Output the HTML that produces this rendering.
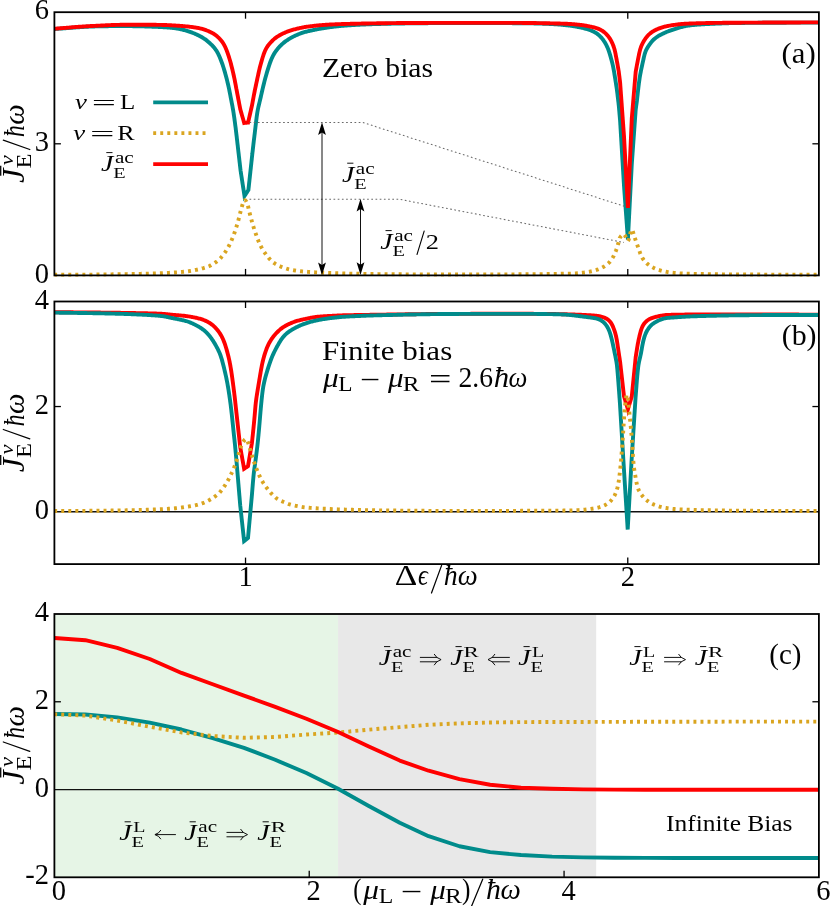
<!DOCTYPE html>
<html><head><meta charset="utf-8"><title>chart</title>
<style>html,body{margin:0;padding:0;background:#fff;}body{width:830px;height:906px;overflow:hidden;font-family:"Liberation Serif",serif;}svg{display:block;}</style></head>
<body>
<svg width="830" height="906" viewBox="0 0 830 906" font-family="'Liberation Serif', serif">
<rect x="0" y="0" width="830" height="906" fill="#fff"/>
<clipPath id="ca"><rect x="54.4" y="11.2" width="764.50" height="265.60"/></clipPath>
<clipPath id="cb"><rect x="54.4" y="300.5" width="764.50" height="265.00"/></clipPath>
<clipPath id="cc"><rect x="54.4" y="613.0" width="764.50" height="265.70"/></clipPath>
<rect x="54.4" y="614.0" width="283.65" height="263.30" fill="#e6f5e6"/>
<rect x="338.05" y="614.0" width="258.15" height="263.30" fill="#e8e8e8"/>
<line x1="54.4" x2="818.9" y1="511.7" y2="511.7" stroke="#111" stroke-width="1.4"/>
<line x1="54.4" x2="818.9" y1="789.6" y2="789.6" stroke="#111" stroke-width="1.4"/>
<g clip-path="url(#ca)">
<polyline points="52.21,29.17 53.01,29.12 53.80,29.07 54.60,29.02 55.40,28.96 56.21,28.91 57.03,28.85 57.84,28.79 58.62,28.74 59.40,28.68 60.19,28.62 60.99,28.57 61.79,28.51 62.58,28.45 63.38,28.39 64.18,28.33 64.98,28.27 65.77,28.21 66.57,28.14 67.37,28.08 68.17,28.02 68.96,27.96 69.76,27.90 70.56,27.83 71.36,27.77 72.15,27.71 72.95,27.65 73.75,27.59 74.55,27.53 75.34,27.47 76.14,27.41 76.94,27.35 77.74,27.30 78.54,27.24 79.33,27.19 80.13,27.13 80.93,27.08 81.73,27.03 82.53,26.98 83.33,26.93 84.12,26.89 84.92,26.84 85.72,26.80 86.52,26.76 87.32,26.72 88.12,26.68 88.92,26.65 89.72,26.61 90.52,26.58 91.32,26.55 92.12,26.52 92.92,26.49 93.72,26.47 94.51,26.44 95.31,26.42 96.11,26.40 96.91,26.38 97.71,26.36 98.51,26.34 99.31,26.32 100.11,26.30 100.91,26.29 101.71,26.27 102.51,26.26 103.31,26.25 104.11,26.23 104.91,26.22 105.71,26.21 106.51,26.20 107.31,26.19 108.11,26.18 108.91,26.17 109.71,26.16 110.51,26.15 111.31,26.14 112.11,26.14 112.91,26.13 113.71,26.13 114.51,26.12 115.31,26.12 116.11,26.11 116.91,26.11 117.71,26.11 118.51,26.11 119.31,26.11 120.11,26.10 120.91,26.10 121.71,26.11 122.51,26.11 123.31,26.11 124.11,26.11 124.91,26.11 125.71,26.12 126.51,26.12 127.31,26.13 128.11,26.13 128.91,26.14 129.71,26.14 130.51,26.15 131.31,26.16 132.11,26.17 132.91,26.18 133.71,26.19 134.51,26.20 135.31,26.21 136.11,26.23 136.91,26.24 137.71,26.26 138.51,26.28 139.31,26.30 140.11,26.31 140.91,26.33 141.71,26.36 142.51,26.38 143.31,26.40 144.11,26.42 144.91,26.45 145.71,26.47 146.51,26.49 147.31,26.52 148.11,26.54 148.91,26.57 149.71,26.60 150.51,26.62 151.30,26.65 152.10,26.68 152.90,26.71 153.70,26.74 154.50,26.77 155.30,26.81 156.10,26.84 156.90,26.88 157.70,26.91 158.50,26.95 159.30,26.99 160.10,27.03 160.89,27.07 161.69,27.12 162.49,27.16 163.29,27.20 164.09,27.25 164.89,27.30 165.69,27.34 166.49,27.39 167.28,27.45 168.08,27.50 168.88,27.56 169.68,27.62 170.47,27.69 171.27,27.77 172.06,27.85 172.86,27.94 173.65,28.04 174.44,28.14 175.23,28.26 176.02,28.38 176.81,28.51 177.60,28.65 178.39,28.80 179.17,28.95 179.95,29.11 180.74,29.27 181.52,29.45 182.30,29.63 183.07,29.81 183.85,30.00 184.62,30.20 185.40,30.41 186.17,30.62 186.93,30.85 187.70,31.08 188.46,31.32 189.22,31.57 189.97,31.83 190.73,32.10 191.48,32.38 192.22,32.67 192.97,32.96 193.71,33.26 194.45,33.57 195.18,33.88 195.91,34.20 196.64,34.53 197.37,34.86 198.09,35.20 198.81,35.56 199.52,35.92 200.23,36.29 200.93,36.67 201.62,37.06 202.31,37.47 202.99,37.89 203.66,38.32 204.32,38.76 204.98,39.22 205.63,39.68 206.27,40.16 206.90,40.65 207.52,41.15 208.13,41.66 208.73,42.18 209.33,42.71 209.92,43.25 210.50,43.80 211.07,44.36 211.64,44.92 212.20,45.49 212.75,46.07 213.28,46.66 213.81,47.26 214.32,47.87 214.82,48.49 215.30,49.12 215.77,49.76 216.22,50.42 216.65,51.09 217.06,51.77 217.46,52.46 217.84,53.16 218.20,53.87 218.55,54.58 218.89,55.31 219.22,56.03 219.54,56.77 219.85,57.50 220.16,58.24 220.46,58.98 220.75,59.73 221.04,60.47 221.32,61.22 221.59,61.97 221.87,62.72 222.14,63.48 222.40,64.23 222.66,64.99 222.91,65.75 223.17,66.51 223.41,67.27 223.65,68.03 223.89,68.79 224.13,69.56 224.36,70.32 224.58,71.09 224.81,71.86 225.03,72.63 225.24,73.40 225.45,74.17 225.67,74.94 225.87,75.71 226.08,76.49 226.28,77.26 226.48,78.03 226.68,78.81 226.88,79.58 227.07,80.36 227.26,81.14 227.45,81.91 227.64,82.69 227.83,83.47 228.01,84.25 228.19,85.03 228.37,85.81 228.54,86.59 228.71,87.37 228.88,88.15 229.05,88.93 229.21,89.72 229.37,90.50 229.53,91.29 229.68,92.07 229.84,92.85 229.99,93.64 230.14,94.43 230.29,95.21 230.44,96.00 230.59,96.78 230.75,97.57 230.90,98.35 231.05,99.14 231.20,99.92 231.35,100.71 231.51,101.49 231.66,102.28 231.81,103.07 231.97,103.85 232.12,104.64 232.27,105.42 232.42,106.21 232.56,106.99 232.71,107.78 232.85,108.57 232.98,109.36 233.12,110.15 233.25,110.93 233.37,111.72 233.50,112.51 233.62,113.30 233.74,114.10 233.86,114.89 233.97,115.68 234.09,116.47 234.20,117.26 234.31,118.05 234.42,118.85 234.53,119.64 234.64,120.43 234.75,121.22 234.85,122.02 234.96,122.81 235.06,123.60 235.17,124.40 235.27,125.19 235.38,125.98 235.48,126.78 235.59,127.57 235.69,128.36 235.78,129.16 235.88,129.95 235.97,130.75 236.07,131.54 236.16,132.33 236.26,133.13 236.35,133.92 236.45,134.72 236.54,135.51 236.64,136.31 236.70,136.86 236.73,137.10 236.82,137.90 236.91,138.69 237.01,139.48 237.10,140.28 237.19,141.07 237.28,141.87 237.37,142.66 237.46,143.46 237.55,144.25 237.65,145.05 237.74,145.84 237.83,146.64 237.92,147.43 238.01,148.23 238.10,149.02 238.19,149.82 238.28,150.61 238.38,151.41 238.47,152.20 238.56,153.00 238.65,153.79 238.74,154.59 238.83,155.38 238.92,156.17 239.02,156.97 239.11,157.76 239.20,158.56 239.29,159.35 239.38,160.15 239.47,160.94 239.56,161.74 239.65,162.53 239.75,163.33 239.84,164.12 239.93,164.92 240.02,165.71 240.11,166.51 240.20,167.30 240.29,168.10 240.38,168.89 240.48,169.69 240.57,170.48 240.60,170.78 240.68,171.27 240.80,172.06 240.92,172.85 241.04,173.64 241.17,174.44 241.29,175.23 241.41,176.02 241.53,176.81 241.66,177.60 241.78,178.39 241.90,179.18 242.02,179.97 242.14,180.76 242.27,181.55 242.39,182.34 242.51,183.13 242.63,183.92 242.76,184.71 242.88,185.50 243.00,186.29 243.12,187.09 243.24,187.88 243.37,188.67 243.49,189.46 243.61,190.25 243.73,191.04 243.86,191.83 243.98,192.62 244.10,193.41 244.22,194.20 244.34,194.99 244.47,195.78 244.50,196.00 244.82,195.51 245.25,194.84 245.69,194.17 246.13,193.50 246.56,192.83 247.00,192.16 247.44,191.49 247.87,190.82 248.31,190.15 248.40,190.02 248.47,189.38 248.55,188.59 248.64,187.79 248.73,187.00 248.81,186.20 248.90,185.41 248.98,184.61 249.07,183.82 249.16,183.02 249.24,182.22 249.33,181.43 249.42,180.63 249.50,179.84 249.59,179.04 249.68,178.25 249.76,177.45 249.85,176.66 249.93,175.86 250.02,175.07 250.11,174.27 250.19,173.48 250.28,172.68 250.37,171.89 250.45,171.09 250.54,170.29 250.62,169.50 250.71,168.70 250.80,167.91 250.88,167.11 250.97,166.32 251.06,165.52 251.14,164.73 251.23,163.93 251.32,163.14 251.40,162.34 251.49,161.55 251.57,160.75 251.66,159.96 251.75,159.16 251.83,158.36 251.92,157.57 252.01,156.77 252.09,155.98 252.18,155.18 252.26,154.39 252.30,154.10 252.35,153.59 252.44,152.80 252.54,152.00 252.63,151.21 252.72,150.41 252.81,149.62 252.90,148.82 252.99,148.03 253.08,147.23 253.17,146.44 253.26,145.64 253.35,144.85 253.44,144.05 253.53,143.26 253.62,142.47 253.71,141.67 253.81,140.88 253.91,140.08 254.01,139.29 254.10,138.49 254.20,137.70 254.30,136.91 254.40,136.11 254.49,135.32 254.59,134.52 254.68,133.73 254.78,132.93 254.87,132.14 254.97,131.35 255.06,130.55 255.15,129.76 255.24,128.96 255.34,128.17 255.43,127.37 255.52,126.58 255.61,125.78 255.71,124.99 255.80,124.19 255.89,123.40 255.99,122.61 256.08,121.81 256.18,121.02 256.27,120.22 256.37,119.43 256.47,118.64 256.57,117.84 256.68,117.05 256.78,116.26 256.89,115.46 257.01,114.67 257.12,113.88 257.24,113.09 257.37,112.30 257.50,111.51 257.64,110.72 257.78,109.94 257.94,109.15 258.10,108.37 258.26,107.59 258.44,106.81 258.62,106.03 258.80,105.25 258.98,104.47 259.17,103.70 259.36,102.92 259.55,102.14 259.74,101.36 259.93,100.59 260.11,99.81 260.29,99.03 260.48,98.25 260.66,97.47 260.84,96.69 261.01,95.91 261.19,95.13 261.37,94.35 261.55,93.57 261.72,92.79 261.90,92.01 262.08,91.23 262.26,90.45 262.44,89.67 262.62,88.89 262.81,88.12 262.99,87.34 263.18,86.56 263.37,85.78 263.56,85.00 263.75,84.23 263.94,83.45 264.14,82.68 264.33,81.90 264.53,81.13 264.73,80.35 264.94,79.58 265.14,78.80 265.35,78.03 265.56,77.26 265.78,76.49 265.99,75.72 266.21,74.95 266.43,74.18 266.65,73.41 266.88,72.64 267.10,71.88 267.33,71.11 267.56,70.35 267.80,69.58 268.03,68.82 268.27,68.05 268.51,67.29 268.76,66.53 269.00,65.77 269.26,65.01 269.51,64.25 269.78,63.50 270.04,62.74 270.32,61.99 270.60,61.25 270.89,60.50 271.19,59.76 271.50,59.02 271.82,58.29 272.15,57.57 272.49,56.84 272.85,56.13 273.21,55.42 273.60,54.72 273.99,54.03 274.40,53.34 274.82,52.67 275.26,52.01 275.72,51.35 276.18,50.70 276.66,50.07 277.15,49.44 277.66,48.82 278.17,48.21 278.69,47.60 279.22,47.01 279.77,46.42 280.32,45.85 280.88,45.28 281.46,44.73 282.04,44.19 282.64,43.66 283.24,43.14 283.86,42.64 284.49,42.14 285.12,41.66 285.77,41.19 286.42,40.73 287.07,40.27 287.74,39.83 288.41,39.40 289.09,38.97 289.77,38.56 290.46,38.16 291.16,37.77 291.86,37.38 292.56,37.01 293.27,36.64 293.99,36.28 294.71,35.94 295.43,35.59 296.16,35.26 296.89,34.94 297.62,34.62 298.36,34.31 299.10,34.01 299.84,33.72 300.59,33.44 301.34,33.17 302.10,32.91 302.85,32.66 303.62,32.41 304.38,32.18 305.15,31.96 305.92,31.75 306.69,31.55 307.47,31.36 308.25,31.17 309.02,30.99 309.80,30.82 310.59,30.64 311.37,30.48 312.15,30.31 312.93,30.15 313.72,29.99 314.50,29.83 315.29,29.67 316.07,29.52 316.86,29.36 317.64,29.21 318.43,29.06 319.21,28.92 320.00,28.78 320.79,28.64 321.58,28.50 322.36,28.36 323.15,28.23 323.94,28.10 324.73,27.98 325.52,27.85 326.31,27.73 327.10,27.61 327.90,27.50 328.69,27.38 329.48,27.27 330.27,27.16 331.07,27.06 331.86,26.95 332.65,26.85 333.45,26.75 334.24,26.65 335.03,26.56 335.83,26.47 336.62,26.38 337.42,26.29 338.21,26.21 339.01,26.13 339.81,26.05 340.60,25.97 341.40,25.90 342.20,25.82 342.99,25.76 343.79,25.69 344.59,25.62 345.38,25.56 346.18,25.50 346.98,25.44 347.78,25.39 348.58,25.33 349.37,25.28 350.17,25.23 350.97,25.18 351.77,25.13 352.57,25.09 353.37,25.04 354.17,24.99 354.96,24.95 355.76,24.90 356.56,24.86 357.36,24.82 358.16,24.78 358.96,24.73 359.76,24.69 360.56,24.65 361.36,24.61 362.16,24.58 362.95,24.54 363.75,24.50 364.55,24.47 365.35,24.43 366.15,24.40 366.95,24.36 367.75,24.33 368.55,24.30 369.35,24.27 370.15,24.24 370.95,24.21 371.75,24.18 372.55,24.16 373.35,24.13 374.15,24.11 374.95,24.08 375.75,24.06 376.54,24.04 377.34,24.02 378.14,24.00 378.94,23.97 379.74,23.95 380.54,23.93 381.34,23.91 382.14,23.89 382.94,23.88 383.74,23.86 384.54,23.84 385.34,23.82 386.14,23.80 386.94,23.78 387.74,23.76 388.54,23.74 389.34,23.72 390.14,23.70 390.94,23.69 391.74,23.67 392.54,23.65 393.34,23.63 394.14,23.62 394.94,23.60 395.74,23.58 396.54,23.57 397.34,23.55 398.14,23.54 398.94,23.52 399.74,23.51 400.54,23.49 401.34,23.48 402.14,23.47 402.94,23.46 403.74,23.44 404.54,23.43 405.34,23.42 406.14,23.41 406.94,23.40 407.74,23.39 408.54,23.38 409.34,23.37 410.14,23.36 410.94,23.35 411.74,23.34 412.54,23.33 413.34,23.32 414.14,23.31 414.94,23.31 415.74,23.30 416.54,23.29 417.34,23.28 418.14,23.27 418.94,23.26 419.74,23.25 420.54,23.25 421.34,23.24 422.14,23.23 422.94,23.22 423.74,23.22 424.54,23.21 425.34,23.20 426.14,23.19 426.94,23.19 427.74,23.18 428.54,23.17 429.34,23.17 430.14,23.16 430.94,23.15 431.74,23.15 432.54,23.14 433.34,23.14 434.14,23.13 434.94,23.13 435.74,23.12 436.54,23.12 437.34,23.11 438.14,23.11 438.94,23.11 439.74,23.10 440.54,23.10 441.34,23.10 442.14,23.09 442.94,23.09 443.74,23.09 444.54,23.08 445.34,23.08 446.14,23.08 446.94,23.08 447.74,23.07 448.54,23.07 449.34,23.07 450.14,23.07 450.94,23.07 451.74,23.06 452.54,23.06 453.34,23.06 454.14,23.06 454.94,23.06 455.74,23.06 456.54,23.06 457.34,23.05 458.14,23.05 458.94,23.05 459.74,23.05 460.54,23.05 461.34,23.05 462.14,23.05 462.94,23.05 463.74,23.05 464.54,23.05 465.34,23.05 466.14,23.05 466.94,23.05 467.74,23.05 468.54,23.04 469.34,23.04 470.14,23.04 470.94,23.04 471.74,23.04 472.54,23.04 473.34,23.04 474.14,23.04 474.94,23.04 475.74,23.05 476.54,23.05 477.34,23.05 478.14,23.05 478.94,23.05 479.74,23.05 480.54,23.05 481.34,23.05 482.14,23.05 482.94,23.05 483.74,23.05 484.54,23.05 485.34,23.05 486.14,23.05 486.94,23.05 487.74,23.05 488.54,23.06 489.34,23.06 490.14,23.06 490.94,23.06 491.74,23.06 492.54,23.07 493.34,23.07 494.14,23.07 494.94,23.08 495.74,23.08 496.54,23.08 497.34,23.09 498.14,23.09 498.94,23.09 499.74,23.10 500.54,23.10 501.34,23.11 502.14,23.11 502.94,23.11 503.74,23.12 504.54,23.12 505.34,23.13 506.14,23.13 506.94,23.14 507.74,23.14 508.54,23.15 509.34,23.16 510.14,23.16 510.94,23.17 511.74,23.17 512.54,23.18 513.34,23.19 514.14,23.19 514.94,23.20 515.74,23.20 516.54,23.21 517.34,23.22 518.14,23.22 518.94,23.23 519.74,23.24 520.54,23.24 521.34,23.25 522.14,23.26 522.94,23.27 523.74,23.27 524.54,23.28 525.34,23.29 526.14,23.30 526.94,23.31 527.74,23.32 528.54,23.33 529.33,23.34 530.13,23.35 530.93,23.37 531.73,23.38 532.53,23.40 533.33,23.42 534.13,23.44 534.93,23.46 535.73,23.48 536.53,23.50 537.33,23.52 538.13,23.55 538.93,23.57 539.73,23.60 540.53,23.62 541.33,23.65 542.13,23.67 542.93,23.70 543.73,23.73 544.53,23.76 545.33,23.79 546.13,23.82 546.93,23.85 547.73,23.88 548.53,23.92 549.32,23.95 550.12,23.99 550.92,24.03 551.72,24.07 552.52,24.11 553.32,24.16 554.12,24.21 554.92,24.26 555.71,24.31 556.51,24.37 557.31,24.43 558.11,24.49 558.91,24.55 559.70,24.61 560.50,24.68 561.30,24.74 562.09,24.81 562.89,24.88 563.69,24.96 564.48,25.03 565.28,25.11 566.08,25.19 566.87,25.28 567.66,25.37 568.46,25.47 569.25,25.57 570.04,25.68 570.84,25.79 571.63,25.91 572.42,26.03 573.21,26.15 574.00,26.28 574.79,26.41 575.58,26.54 576.36,26.68 577.15,26.81 577.94,26.96 578.73,27.10 579.51,27.26 580.29,27.41 581.08,27.58 581.86,27.75 582.63,27.93 583.41,28.13 584.18,28.33 584.95,28.54 585.72,28.76 586.49,28.98 587.25,29.22 588.01,29.47 588.77,29.72 589.52,29.98 590.27,30.25 591.02,30.54 591.76,30.83 592.49,31.14 593.22,31.47 593.93,31.82 594.63,32.19 595.32,32.58 596.00,32.99 596.65,33.43 597.30,33.89 597.93,34.37 598.54,34.88 599.13,35.40 599.71,35.94 600.28,36.50 600.83,37.08 601.36,37.67 601.88,38.27 602.38,38.89 602.87,39.52 603.34,40.16 603.80,40.81 604.24,41.47 604.67,42.15 605.08,42.83 605.48,43.52 605.87,44.21 606.24,44.92 606.60,45.63 606.95,46.35 607.28,47.07 607.60,47.80 607.91,48.54 608.21,49.28 608.49,50.03 608.76,50.78 609.02,51.53 609.28,52.29 609.52,53.05 609.76,53.82 609.99,54.58 610.21,55.35 610.43,56.12 610.65,56.89 610.86,57.66 611.07,58.43 611.28,59.20 611.49,59.98 611.69,60.75 611.89,61.52 612.09,62.30 612.28,63.07 612.47,63.85 612.65,64.63 612.83,65.41 613.00,66.19 613.16,66.97 613.32,67.76 613.48,68.54 613.62,69.33 613.77,70.11 613.91,70.90 614.05,71.69 614.18,72.48 614.31,73.27 614.44,74.06 614.57,74.85 614.70,75.64 614.83,76.42 614.95,77.21 615.08,78.00 615.21,78.79 615.33,79.58 615.46,80.37 615.59,81.16 615.71,81.95 615.84,82.74 615.96,83.53 616.09,84.32 616.21,85.12 616.33,85.91 616.45,86.70 616.57,87.49 616.68,88.28 616.80,89.07 616.90,89.86 617.01,90.66 617.11,91.45 617.21,92.24 617.31,93.04 617.41,93.83 617.50,94.63 617.60,95.42 617.69,96.21 617.79,97.01 617.88,97.80 617.98,98.60 618.07,99.39 618.17,100.19 618.26,100.98 618.35,101.78 618.45,102.57 618.54,103.36 618.63,104.16 618.72,104.95 618.80,105.75 618.88,106.55 618.95,107.34 619.02,108.14 619.09,108.94 619.16,109.73 619.23,110.53 619.30,111.33 619.36,112.12 619.43,112.92 619.50,113.72 619.57,114.52 619.64,115.31 619.71,116.11 619.77,116.91 619.84,117.70 619.91,118.50 619.98,119.30 620.05,120.10 620.10,120.75 620.11,120.89 620.16,121.69 620.21,122.49 620.26,123.29 620.30,124.09 620.35,124.89 620.40,125.68 620.45,126.48 620.50,127.28 620.54,128.08 620.59,128.88 620.64,129.68 620.69,130.48 620.74,131.27 620.78,132.07 620.83,132.87 620.88,133.67 620.93,134.47 620.97,135.27 621.02,136.07 621.07,136.86 621.12,137.66 621.17,138.46 621.21,139.26 621.26,140.06 621.31,140.86 621.36,141.66 621.41,142.45 621.45,143.25 621.50,144.05 621.55,144.85 621.60,145.65 621.65,146.45 621.69,147.25 621.74,148.04 621.79,148.84 621.84,149.64 621.88,150.44 621.93,151.24 621.98,152.04 622.03,152.84 622.08,153.63 622.12,154.43 622.17,155.23 622.22,156.03 622.27,156.83 622.32,157.63 622.36,158.43 622.41,159.22 622.46,160.02 622.51,160.82 622.56,161.62 622.60,162.42 622.65,163.22 622.70,164.02 622.75,164.81 622.79,165.61 622.84,166.41 622.89,167.21 622.94,168.01 622.99,168.81 623.03,169.61 623.08,170.40 623.13,171.20 623.18,172.00 623.23,172.80 623.27,173.60 623.32,174.40 623.37,175.20 623.42,175.99 623.47,176.79 623.51,177.59 623.56,178.39 623.61,179.19 623.66,179.99 623.70,180.78 623.75,181.58 623.80,182.38 623.85,183.18 623.90,183.98 623.94,184.78 623.99,185.58 624.00,185.74 624.05,186.37 624.11,187.17 624.16,187.97 624.22,188.77 624.28,189.57 624.34,190.36 624.39,191.16 624.45,191.96 624.51,192.76 624.57,193.56 624.63,194.35 624.68,195.15 624.74,195.95 624.80,196.75 624.86,197.55 624.92,198.34 624.97,199.14 625.03,199.94 625.09,200.74 625.15,201.53 625.20,202.33 625.26,203.13 625.32,203.93 625.38,204.73 625.44,205.52 625.49,206.32 625.55,207.12 625.61,207.92 625.67,208.72 625.73,209.51 625.78,210.31 625.84,211.11 625.90,211.91 625.96,212.71 626.01,213.50 626.07,214.30 626.13,215.10 626.19,215.90 626.25,216.69 626.30,217.49 626.36,218.29 626.42,219.09 626.48,219.89 626.54,220.68 626.59,221.48 626.65,222.28 626.71,223.08 626.77,223.88 626.82,224.67 626.88,225.47 626.94,226.27 627.00,227.07 627.06,227.87 627.11,228.66 627.17,229.46 627.23,230.26 627.29,231.06 627.35,231.86 627.40,232.65 627.46,233.45 627.52,234.25 627.58,235.05 627.63,235.84 627.69,236.64 627.75,237.44 627.81,238.24 627.87,239.04 627.90,239.50 627.92,239.17 627.96,238.37 628.00,237.57 628.04,236.77 628.08,235.97 628.12,235.17 628.16,234.37 628.21,233.57 628.25,232.77 628.29,231.97 628.33,231.18 628.37,230.38 628.41,229.58 628.45,228.78 628.49,227.98 628.54,227.18 628.58,226.38 628.62,225.58 628.66,224.78 628.70,223.99 628.74,223.19 628.78,222.39 628.82,221.59 628.87,220.79 628.91,219.99 628.95,219.19 628.99,218.39 629.03,217.59 629.07,216.80 629.11,216.00 629.15,215.20 629.20,214.40 629.24,213.60 629.28,212.80 629.32,212.00 629.36,211.20 629.40,210.40 629.44,209.60 629.48,208.81 629.53,208.01 629.57,207.21 629.61,206.41 629.65,205.61 629.69,204.81 629.73,204.01 629.77,203.21 629.81,202.41 629.86,201.62 629.90,200.82 629.94,200.02 629.98,199.22 630.02,198.42 630.06,197.62 630.10,196.82 630.14,196.02 630.19,195.22 630.23,194.42 630.27,193.63 630.31,192.83 630.35,192.03 630.39,191.23 630.43,190.43 630.47,189.63 630.52,188.83 630.56,188.03 630.60,187.23 630.64,186.44 630.68,185.64 630.72,184.84 630.76,184.04 630.80,183.24 630.85,182.44 630.89,181.64 630.93,180.84 630.97,180.04 631.01,179.25 631.05,178.45 631.09,177.65 631.13,176.85 631.17,176.05 631.22,175.25 631.26,174.45 631.30,173.65 631.34,172.85 631.38,172.05 631.42,171.26 631.46,170.46 631.50,169.66 631.55,168.86 631.59,168.06 631.63,167.26 631.67,166.46 631.71,165.66 631.75,164.86 631.79,164.07 631.80,163.98 631.85,163.27 631.91,162.47 631.96,161.67 632.02,160.87 632.08,160.08 632.14,159.28 632.19,158.48 632.25,157.68 632.31,156.88 632.36,156.09 632.42,155.29 632.48,154.49 632.54,153.69 632.59,152.89 632.65,152.10 632.71,151.30 632.77,150.50 632.82,149.70 632.88,148.90 632.94,148.11 633.00,147.31 633.05,146.51 633.11,145.71 633.17,144.91 633.22,144.12 633.28,143.32 633.34,142.52 633.40,141.72 633.45,140.92 633.51,140.13 633.57,139.33 633.63,138.53 633.68,137.73 633.74,136.94 633.80,136.14 633.86,135.34 633.91,134.54 633.97,133.74 634.03,132.95 634.08,132.15 634.14,131.35 634.20,130.55 634.26,129.75 634.31,128.96 634.37,128.16 634.43,127.36 634.49,126.56 634.54,125.76 634.60,124.97 634.66,124.17 634.72,123.37 634.77,122.57 634.83,121.77 634.89,120.98 634.94,120.18 635.00,119.38 635.06,118.58 635.12,117.78 635.17,116.99 635.23,116.19 635.29,115.39 635.35,114.59 635.40,113.79 635.46,113.00 635.52,112.20 635.57,111.40 635.63,110.60 635.69,109.81 635.70,109.72 635.79,109.01 635.90,108.22 636.01,107.43 636.11,106.63 636.22,105.84 636.33,105.05 636.44,104.26 636.54,103.46 636.65,102.67 636.76,101.88 636.87,101.08 636.96,100.29 637.05,99.49 637.14,98.70 637.22,97.90 637.31,97.11 637.40,96.31 637.49,95.52 637.58,94.72 637.66,93.93 637.75,93.13 637.84,92.34 637.93,91.54 638.02,90.75 638.11,89.95 638.20,89.16 638.30,88.36 638.39,87.57 638.48,86.78 638.58,85.98 638.67,85.19 638.77,84.39 638.87,83.60 638.97,82.81 639.08,82.01 639.19,81.22 639.30,80.43 639.41,79.64 639.53,78.85 639.65,78.05 639.77,77.26 639.90,76.48 640.04,75.69 640.17,74.90 640.32,74.11 640.46,73.33 640.61,72.54 640.77,71.76 640.92,70.97 641.08,70.19 641.25,69.40 641.41,68.62 641.58,67.84 641.75,67.06 641.91,66.27 642.08,65.49 642.25,64.71 642.43,63.93 642.60,63.15 642.77,62.37 642.94,61.59 643.11,60.80 643.29,60.02 643.46,59.24 643.63,58.46 643.81,57.68 643.99,56.90 644.17,56.13 644.36,55.35 644.56,54.58 644.78,53.81 645.01,53.06 645.26,52.30 645.54,51.56 645.84,50.83 646.16,50.11 646.51,49.40 646.88,48.70 647.27,48.01 647.68,47.33 648.11,46.66 648.54,45.99 648.99,45.33 649.44,44.67 649.91,44.02 650.38,43.38 650.86,42.74 651.35,42.11 651.86,41.50 652.38,40.90 652.92,40.32 653.47,39.75 654.05,39.21 654.64,38.68 655.25,38.18 655.88,37.69 656.52,37.23 657.18,36.78 657.85,36.35 658.53,35.94 659.22,35.54 659.91,35.15 660.62,34.78 661.33,34.41 662.04,34.05 662.76,33.71 663.49,33.37 664.21,33.03 664.94,32.71 665.68,32.39 666.41,32.08 667.15,31.78 667.89,31.48 668.64,31.19 669.38,30.90 670.13,30.62 670.88,30.34 671.63,30.07 672.39,29.80 673.14,29.54 673.90,29.28 674.66,29.03 675.42,28.78 676.18,28.54 676.95,28.30 677.71,28.07 678.48,27.84 679.25,27.62 680.02,27.41 680.79,27.20 681.56,27.00 682.34,26.80 683.11,26.61 683.89,26.43 684.67,26.26 685.46,26.10 686.24,25.95 687.03,25.81 687.82,25.68 688.61,25.56 689.40,25.45 690.19,25.35 690.98,25.26 691.78,25.17 692.57,25.09 693.37,25.01 694.17,24.94 694.96,24.87 695.76,24.81 696.56,24.74 697.36,24.68 698.15,24.62 698.95,24.56 699.75,24.51 700.55,24.45 701.35,24.40 702.14,24.35 702.94,24.30 703.74,24.25 704.54,24.20 705.34,24.16 706.14,24.11 706.94,24.07 707.73,24.03 708.53,23.99 709.33,23.95 710.13,23.91 710.93,23.87 711.73,23.84 712.53,23.80 713.33,23.77 714.13,23.74 714.93,23.71 715.73,23.67 716.53,23.64 717.33,23.61 718.12,23.58 718.92,23.55 719.72,23.52 720.52,23.48 721.32,23.45 722.12,23.42 722.92,23.39 723.72,23.36 724.52,23.33 725.32,23.30 726.12,23.27 726.92,23.25 727.72,23.22 728.52,23.19 729.32,23.17 730.12,23.15 730.92,23.12 731.72,23.10 732.52,23.09 733.32,23.07 734.12,23.05 734.92,23.04 735.71,23.02 736.51,23.01 737.31,23.00 738.11,22.99 738.91,22.98 739.71,22.97 740.51,22.97 741.31,22.96 742.11,22.95 742.91,22.94 743.71,22.94 744.51,22.93 745.31,22.92 746.11,22.92 746.91,22.91 747.71,22.90 748.51,22.90 749.31,22.89 750.11,22.88 750.91,22.88 751.71,22.87 752.51,22.86 753.31,22.86 754.11,22.85 754.91,22.85 755.71,22.84 756.51,22.83 757.31,22.83 758.11,22.82 758.91,22.82 759.71,22.81 760.51,22.80 761.31,22.80 762.11,22.79 762.91,22.79 763.71,22.78 764.51,22.78 765.31,22.77 766.11,22.77 766.91,22.76 767.71,22.76 768.51,22.76 769.31,22.75 770.11,22.75 770.91,22.74 771.71,22.74 772.51,22.73 773.31,22.73 774.11,22.73 774.91,22.72 775.71,22.72 776.51,22.71 777.31,22.71 778.11,22.71 778.91,22.70 779.71,22.70 780.51,22.70 781.31,22.70 782.11,22.69 782.91,22.69 783.71,22.69 784.51,22.68 785.31,22.68 786.11,22.68 786.91,22.67 787.71,22.67 788.51,22.67 789.31,22.66 790.11,22.66 790.91,22.66 791.71,22.65 792.51,22.65 793.31,22.65 794.11,22.65 794.91,22.64 795.71,22.64 796.51,22.64 797.31,22.63 798.11,22.63 798.91,22.63 799.71,22.63 800.51,22.62 801.31,22.62 802.11,22.62 802.91,22.62 803.71,22.61 804.51,22.61 805.31,22.61 806.11,22.61 806.91,22.61 807.71,22.61 808.51,22.60 809.31,22.60 810.11,22.60 810.91,22.60 811.71,22.60 812.51,22.60 813.30,22.60 814.08,22.60 814.87,22.60 815.68,22.60 816.51,22.59 817.31,22.59 818.11,22.60 818.91,22.60 819.71,22.60 820.33,22.60" fill="none" stroke="#008b8b" stroke-width="3.9" stroke-linejoin="miter" stroke-miterlimit="4"/>
<polyline points="54.20,274.80 55.00,274.80 55.75,274.80 56.50,274.80 57.25,274.79 58.00,274.79 58.75,274.79 59.50,274.79 60.25,274.79 61.00,274.78 61.75,274.78 62.50,274.78 63.25,274.77 64.00,274.77 64.75,274.77 65.50,274.76 66.25,274.76 67.00,274.76 67.75,274.75 68.50,274.75 69.25,274.75 70.00,274.74 70.75,274.74 71.50,274.73 72.25,274.73 73.00,274.72 73.75,274.72 74.50,274.71 75.25,274.71 76.00,274.70 76.75,274.70 77.50,274.69 78.25,274.69 79.00,274.68 79.75,274.68 80.50,274.67 81.25,274.67 82.00,274.66 82.75,274.66 83.50,274.65 84.25,274.65 85.00,274.64 85.75,274.63 86.50,274.63 87.25,274.62 88.00,274.62 88.75,274.61 89.50,274.60 90.25,274.60 91.00,274.59 91.75,274.59 92.50,274.58 93.25,274.57 94.00,274.56 94.75,274.56 95.50,274.55 96.25,274.54 97.00,274.53 97.75,274.52 98.50,274.51 99.25,274.51 100.00,274.50 100.75,274.49 101.50,274.48 102.25,274.47 103.00,274.46 103.75,274.45 104.50,274.44 105.25,274.43 106.00,274.42 106.75,274.41 107.50,274.39 108.25,274.38 109.00,274.37 109.75,274.36 110.50,274.35 111.25,274.34 112.00,274.33 112.75,274.31 113.50,274.30 114.25,274.29 115.00,274.28 115.75,274.27 116.50,274.26 117.25,274.24 118.00,274.23 118.75,274.22 119.50,274.21 120.25,274.20 121.00,274.18 121.75,274.17 122.50,274.16 123.25,274.15 124.00,274.14 124.75,274.12 125.50,274.11 126.25,274.10 127.00,274.09 127.75,274.07 128.50,274.06 129.25,274.05 130.00,274.03 130.75,274.02 131.50,274.01 132.25,273.99 133.00,273.98 133.75,273.97 134.50,273.95 135.25,273.94 136.00,273.92 136.75,273.91 137.50,273.89 138.25,273.88 139.00,273.86 139.75,273.85 140.50,273.83 141.25,273.81 142.00,273.80 142.75,273.78 143.50,273.76 144.25,273.75 145.00,273.73 145.75,273.71 146.50,273.69 147.25,273.67 148.00,273.65 148.75,273.63 149.50,273.61 150.25,273.59 151.00,273.57 151.75,273.55 152.50,273.53 153.25,273.51 154.00,273.48 154.75,273.46 155.50,273.43 156.25,273.41 157.00,273.38 157.75,273.35 158.50,273.33 159.25,273.30 160.00,273.27 160.75,273.24 161.50,273.21 162.25,273.18 163.00,273.14 163.75,273.11 164.50,273.08 165.25,273.04 166.00,273.01 166.75,272.97 167.50,272.93 168.25,272.89 169.00,272.85 169.75,272.81 170.50,272.77 171.25,272.73 172.00,272.69 172.75,272.64 173.50,272.59 174.25,272.54 175.00,272.49 175.75,272.44 176.50,272.38 177.25,272.33 178.00,272.27 178.75,272.21 179.50,272.15 180.25,272.08 181.00,272.02 181.75,271.95 182.50,271.88 183.25,271.80 184.00,271.73 184.75,271.65 185.50,271.57 186.25,271.49 187.00,271.40 187.75,271.32 188.50,271.22 189.25,271.12 190.00,271.00 190.75,270.88 191.50,270.75 192.25,270.61 193.00,270.47 193.75,270.32 194.50,270.18 195.25,270.03 196.00,269.88 196.75,269.73 197.50,269.57 198.25,269.41 199.00,269.23 199.75,269.06 200.50,268.88 201.25,268.69 202.00,268.49 202.75,268.30 203.50,268.10 204.25,267.88 205.00,267.66 205.75,267.43 206.50,267.18 207.25,266.92 208.00,266.64 208.75,266.33 209.50,265.99 210.25,265.61 211.00,265.21 211.75,264.79 212.50,264.34 213.25,263.87 214.00,263.39 214.75,262.90 215.50,262.38 216.25,261.84 217.00,261.26 217.75,260.65 218.50,260.00 219.25,259.33 220.00,258.61 220.75,257.82 221.50,256.97 222.25,256.07 223.00,255.12 223.75,254.13 224.50,253.12 225.25,252.05 226.00,250.92 226.75,249.74 227.50,248.49 228.25,247.18 229.00,245.77 229.75,244.27 230.50,242.69 231.25,241.04 232.00,239.31 232.75,237.47 233.50,235.53 234.25,233.47 235.00,231.26 235.75,228.96 236.50,226.63 237.25,224.22 238.00,221.64 238.75,218.77 239.50,215.79 240.25,212.80 241.00,209.84 241.75,207.18 242.50,204.59 243.25,202.49 244.00,201.16 244.75,200.28 245.50,200.42 246.25,201.43 247.00,202.96 247.75,204.91 248.50,208.24 249.25,211.49 250.00,214.39 250.75,217.21 251.50,220.04 252.25,222.80 253.00,225.38 253.75,227.79 254.50,230.10 255.25,232.33 256.00,234.47 256.75,236.53 257.50,238.52 258.25,240.47 259.00,242.32 259.75,244.01 260.50,245.55 261.25,247.00 262.00,248.35 262.75,249.63 263.50,250.83 264.25,251.97 265.00,253.04 265.75,254.07 266.50,255.06 267.25,256.02 268.00,256.97 268.75,257.91 269.50,258.81 270.25,259.67 271.00,260.45 271.75,261.14 272.50,261.77 273.25,262.37 274.00,262.93 274.75,263.45 275.50,263.95 276.25,264.40 277.00,264.83 277.75,265.23 278.50,265.60 279.25,265.95 280.00,266.28 280.75,266.60 281.50,266.90 282.25,267.18 283.00,267.45 283.75,267.72 284.50,267.97 285.25,268.23 286.00,268.47 286.75,268.71 287.50,268.93 288.25,269.15 289.00,269.35 289.75,269.53 290.50,269.70 291.25,269.85 292.00,270.00 292.75,270.14 293.50,270.27 294.25,270.39 295.00,270.51 295.75,270.62 296.50,270.73 297.25,270.83 298.00,270.93 298.75,271.02 299.50,271.11 300.25,271.20 301.00,271.29 301.75,271.37 302.50,271.44 303.25,271.51 304.00,271.58 304.75,271.63 305.50,271.69 306.25,271.75 307.00,271.80 307.75,271.85 308.50,271.91 309.25,271.96 310.00,272.01 310.75,272.06 311.50,272.10 312.25,272.15 313.00,272.20 313.75,272.24 314.50,272.29 315.25,272.33 316.00,272.37 316.75,272.41 317.50,272.45 318.25,272.49 319.00,272.53 319.75,272.57 320.50,272.60 321.25,272.64 322.00,272.67 322.75,272.71 323.50,272.74 324.25,272.77 325.00,272.81 325.75,272.84 326.50,272.87 327.25,272.90 328.00,272.93 328.75,272.95 329.50,272.98 330.25,273.01 331.00,273.04 331.75,273.06 332.50,273.09 333.25,273.11 334.00,273.14 334.75,273.16 335.50,273.19 336.25,273.21 337.00,273.24 337.75,273.26 338.50,273.28 339.25,273.31 340.00,273.33 340.75,273.35 341.50,273.37 342.25,273.39 343.00,273.42 343.75,273.44 344.50,273.46 345.25,273.48 346.00,273.50 346.75,273.52 347.50,273.54 348.25,273.55 349.00,273.57 349.75,273.59 350.50,273.61 351.25,273.62 352.00,273.64 352.75,273.66 353.50,273.67 354.25,273.69 355.00,273.71 355.75,273.72 356.50,273.74 357.25,273.75 358.00,273.76 358.75,273.78 359.50,273.79 360.25,273.80 361.00,273.82 361.75,273.83 362.50,273.84 363.25,273.86 364.00,273.87 364.75,273.88 365.50,273.89 366.25,273.90 367.00,273.92 367.75,273.93 368.50,273.94 369.25,273.95 370.00,273.96 370.75,273.97 371.50,273.98 372.25,274.00 373.00,274.01 373.75,274.02 374.50,274.03 375.25,274.04 376.00,274.05 376.75,274.06 377.50,274.07 378.25,274.08 379.00,274.09 379.75,274.10 380.50,274.11 381.25,274.12 382.00,274.13 382.75,274.13 383.50,274.14 384.25,274.15 385.00,274.16 385.75,274.17 386.50,274.18 387.25,274.19 388.00,274.19 388.75,274.20 389.50,274.21 390.25,274.22 391.00,274.22 391.75,274.23 392.50,274.24 393.25,274.25 394.00,274.25 394.75,274.26 395.50,274.26 396.25,274.27 397.00,274.28 397.75,274.28 398.50,274.29 399.25,274.29 400.00,274.30 400.75,274.31 401.50,274.31 402.25,274.32 403.00,274.32 403.75,274.33 404.50,274.33 405.25,274.34 406.00,274.34 406.75,274.35 407.50,274.35 408.25,274.36 409.00,274.36 409.75,274.37 410.50,274.37 411.25,274.38 412.00,274.39 412.75,274.39 413.50,274.40 414.25,274.40 415.00,274.41 415.75,274.41 416.50,274.41 417.25,274.42 418.00,274.42 418.75,274.43 419.50,274.43 420.25,274.44 421.00,274.44 421.75,274.45 422.50,274.45 423.25,274.45 424.00,274.46 424.75,274.46 425.50,274.46 426.25,274.47 427.00,274.47 427.75,274.47 428.50,274.48 429.25,274.48 430.00,274.48 430.75,274.48 431.50,274.49 432.25,274.49 433.00,274.49 433.75,274.49 434.50,274.49 435.25,274.50 436.00,274.50 436.75,274.50 437.50,274.50 438.25,274.50 439.00,274.50 439.75,274.50 440.50,274.50 441.25,274.50 442.00,274.50 442.75,274.50 443.50,274.50 444.25,274.50 445.00,274.50 445.75,274.50 446.50,274.50 447.25,274.50 448.00,274.50 448.75,274.50 449.50,274.50 450.25,274.50 451.00,274.50 451.75,274.50 452.50,274.50 453.25,274.50 454.00,274.50 454.75,274.50 455.50,274.50 456.25,274.50 457.00,274.50 457.75,274.50 458.50,274.50 459.25,274.50 460.00,274.50 460.75,274.50 461.50,274.50 462.25,274.50 463.00,274.50 463.75,274.50 464.50,274.50 465.25,274.50 466.00,274.50 466.75,274.50 467.50,274.50 468.25,274.50 469.00,274.50 469.75,274.50 470.50,274.50 471.25,274.50 472.00,274.50 472.75,274.50 473.50,274.50 474.25,274.50 475.00,274.50 475.75,274.50 476.50,274.50 477.25,274.50 478.00,274.50 478.75,274.50 479.50,274.50 480.25,274.50 481.00,274.50 481.75,274.50 482.50,274.50 483.25,274.50 484.00,274.50 484.75,274.50 485.50,274.49 486.25,274.49 487.00,274.49 487.75,274.49 488.50,274.49 489.25,274.48 490.00,274.48 490.75,274.48 491.50,274.48 492.25,274.47 493.00,274.47 493.75,274.47 494.50,274.46 495.25,274.46 496.00,274.46 496.75,274.45 497.50,274.45 498.25,274.44 499.00,274.44 499.75,274.44 500.50,274.43 501.25,274.43 502.00,274.42 502.75,274.42 503.50,274.41 504.25,274.41 505.00,274.40 505.75,274.40 506.50,274.39 507.25,274.39 508.00,274.38 508.75,274.38 509.50,274.37 510.25,274.37 511.00,274.36 511.75,274.36 512.50,274.35 513.25,274.35 514.00,274.34 514.75,274.34 515.50,274.33 516.25,274.33 517.00,274.32 517.75,274.32 518.50,274.31 519.25,274.31 520.00,274.30 520.75,274.29 521.50,274.29 522.25,274.28 523.00,274.28 523.75,274.27 524.50,274.27 525.25,274.26 526.00,274.26 526.75,274.25 527.50,274.24 528.25,274.24 529.00,274.23 529.75,274.22 530.50,274.22 531.25,274.21 532.00,274.20 532.75,274.20 533.50,274.19 534.25,274.18 535.00,274.18 535.75,274.17 536.50,274.16 537.25,274.15 538.00,274.15 538.75,274.14 539.50,274.13 540.25,274.12 541.00,274.11 541.75,274.10 542.50,274.09 543.25,274.09 544.00,274.08 544.75,274.07 545.50,274.06 546.25,274.05 547.00,274.04 547.75,274.03 548.50,274.02 549.25,274.01 550.00,274.00 550.75,273.99 551.50,273.98 552.25,273.97 553.00,273.96 553.75,273.95 554.50,273.93 555.25,273.92 556.00,273.91 556.75,273.90 557.50,273.88 558.25,273.87 559.00,273.86 559.75,273.84 560.50,273.83 561.25,273.81 562.00,273.80 562.75,273.78 563.50,273.76 564.25,273.75 565.00,273.73 565.75,273.71 566.50,273.69 567.25,273.67 568.00,273.65 568.75,273.63 569.50,273.61 570.25,273.59 571.00,273.57 571.75,273.54 572.50,273.52 573.25,273.49 574.00,273.46 574.75,273.42 575.50,273.39 576.25,273.35 577.00,273.31 577.75,273.26 578.50,273.19 579.25,273.12 580.00,273.04 580.75,272.96 581.50,272.87 582.25,272.77 583.00,272.67 583.75,272.57 584.50,272.47 585.25,272.37 586.00,272.27 586.75,272.16 587.50,272.04 588.25,271.92 589.00,271.80 589.75,271.66 590.50,271.52 591.25,271.37 592.00,271.20 592.75,271.03 593.50,270.84 594.25,270.63 595.00,270.42 595.75,270.19 596.50,269.95 597.25,269.69 598.00,269.43 598.75,269.14 599.50,268.84 600.25,268.51 601.00,268.16 601.75,267.79 602.50,267.39 603.25,266.98 604.00,266.54 604.75,266.08 605.50,265.58 606.25,265.05 607.00,264.48 607.75,263.86 608.50,263.19 609.25,262.45 610.00,261.63 610.75,260.67 611.50,259.59 612.25,258.41 613.00,257.13 613.75,255.76 614.50,254.21 615.25,252.50 616.00,250.62 616.75,248.54 617.50,246.15 618.25,243.66 619.00,240.78 619.75,238.04 620.50,236.77 621.25,235.89 622.00,235.18 622.75,234.66 623.50,234.36 624.25,234.38 625.00,235.40 625.75,237.14 626.50,239.03 627.25,240.50 628.00,240.98 628.75,239.60 629.50,236.78 630.25,233.51 631.00,230.75 631.75,229.51 632.50,230.43 633.25,232.77 634.00,235.40 634.75,237.60 635.50,239.84 636.25,242.07 637.00,244.20 637.75,246.27 638.50,248.33 639.25,250.45 640.00,252.71 640.75,254.79 641.50,256.38 642.25,257.72 643.00,258.92 643.75,259.98 644.50,260.92 645.25,261.76 646.00,262.53 646.75,263.23 647.50,263.89 648.25,264.49 649.00,265.05 649.75,265.57 650.50,266.06 651.25,266.53 652.00,266.98 652.75,267.40 653.50,267.81 654.25,268.18 655.00,268.54 655.75,268.86 656.50,269.16 657.25,269.44 658.00,269.69 658.75,269.94 659.50,270.16 660.25,270.38 661.00,270.58 661.75,270.78 662.50,270.96 663.25,271.13 664.00,271.31 664.75,271.47 665.50,271.63 666.25,271.79 667.00,271.93 667.75,272.07 668.50,272.19 669.25,272.31 670.00,272.41 670.75,272.51 671.50,272.60 672.25,272.68 673.00,272.75 673.75,272.83 674.50,272.90 675.25,272.96 676.00,273.03 676.75,273.09 677.50,273.15 678.25,273.21 679.00,273.27 679.75,273.33 680.50,273.39 681.25,273.44 682.00,273.49 682.75,273.54 683.50,273.57 684.25,273.61 685.00,273.63 685.75,273.66 686.50,273.69 687.25,273.71 688.00,273.73 688.75,273.76 689.50,273.78 690.25,273.80 691.00,273.82 691.75,273.84 692.50,273.85 693.25,273.87 694.00,273.89 694.75,273.90 695.50,273.92 696.25,273.93 697.00,273.95 697.75,273.96 698.50,273.97 699.25,273.99 700.00,274.00 700.75,274.01 701.50,274.03 702.25,274.04 703.00,274.05 703.75,274.07 704.50,274.08 705.25,274.09 706.00,274.10 706.75,274.12 707.50,274.13 708.25,274.14 709.00,274.15 709.75,274.16 710.50,274.17 711.25,274.19 712.00,274.20 712.75,274.21 713.50,274.22 714.25,274.23 715.00,274.24 715.75,274.25 716.50,274.26 717.25,274.27 718.00,274.28 718.75,274.29 719.50,274.30 720.25,274.31 721.00,274.31 721.75,274.32 722.50,274.33 723.25,274.34 724.00,274.35 724.75,274.35 725.50,274.36 726.25,274.37 727.00,274.38 727.75,274.38 728.50,274.39 729.25,274.39 730.00,274.40 730.75,274.41 731.50,274.41 732.25,274.42 733.00,274.42 733.75,274.43 734.50,274.43 735.25,274.44 736.00,274.44 736.75,274.45 737.50,274.45 738.25,274.46 739.00,274.46 739.75,274.47 740.50,274.47 741.25,274.48 742.00,274.48 742.75,274.48 743.50,274.49 744.25,274.49 745.00,274.50 745.75,274.50 746.50,274.51 747.25,274.51 748.00,274.51 748.75,274.52 749.50,274.52 750.25,274.52 751.00,274.53 751.75,274.53 752.50,274.54 753.25,274.54 754.00,274.54 754.75,274.55 755.50,274.55 756.25,274.55 757.00,274.55 757.75,274.56 758.50,274.56 759.25,274.56 760.00,274.57 760.75,274.57 761.50,274.57 762.25,274.58 763.00,274.58 763.75,274.58 764.50,274.58 765.25,274.59 766.00,274.59 766.75,274.59 767.50,274.59 768.25,274.59 769.00,274.60 769.75,274.60 770.50,274.60 771.25,274.60 772.00,274.61 772.75,274.61 773.50,274.61 774.25,274.61 775.00,274.61 775.75,274.62 776.50,274.62 777.25,274.62 778.00,274.62 778.75,274.62 779.50,274.63 780.25,274.63 781.00,274.63 781.75,274.63 782.50,274.63 783.25,274.64 784.00,274.64 784.75,274.64 785.50,274.64 786.25,274.64 787.00,274.65 787.75,274.65 788.50,274.65 789.25,274.65 790.00,274.65 790.75,274.65 791.50,274.66 792.25,274.66 793.00,274.66 793.75,274.66 794.50,274.66 795.25,274.67 796.00,274.67 796.75,274.67 797.50,274.67 798.25,274.67 799.00,274.67 799.75,274.67 800.50,274.68 801.25,274.68 802.00,274.68 802.75,274.68 803.50,274.68 804.25,274.68 805.00,274.68 805.75,274.68 806.50,274.69 807.25,274.69 808.00,274.69 808.75,274.69 809.50,274.69 810.25,274.69 811.00,274.69 811.75,274.69 812.50,274.69 813.25,274.69 814.00,274.70 814.75,274.70 815.50,274.70 816.25,274.70 817.00,274.70 817.75,274.70 818.50,274.70 819.25,274.70 820.00,274.70 820.75,274.70 821.50,274.70" fill="none" stroke="#daa520" stroke-width="3.9" stroke-linejoin="miter" stroke-miterlimit="4" stroke-dasharray="2.95 4.1"/>
<polyline points="52.21,28.87 53.01,28.82 53.80,28.77 54.60,28.72 55.40,28.66 56.21,28.61 57.03,28.54 57.83,28.48 58.62,28.42 59.40,28.36 60.19,28.30 60.99,28.24 61.78,28.17 62.58,28.11 63.38,28.04 64.17,27.98 64.97,27.91 65.77,27.84 66.56,27.77 67.36,27.71 68.16,27.64 68.96,27.57 69.75,27.50 70.55,27.44 71.35,27.37 72.14,27.30 72.94,27.24 73.74,27.17 74.54,27.11 75.33,27.04 76.13,26.98 76.93,26.92 77.73,26.86 78.53,26.80 79.32,26.74 80.12,26.69 80.92,26.63 81.72,26.58 82.52,26.53 83.31,26.48 84.11,26.43 84.91,26.38 85.71,26.33 86.51,26.29 87.31,26.24 88.11,26.20 88.90,26.15 89.70,26.11 90.50,26.07 91.30,26.03 92.10,25.99 92.90,25.95 93.70,25.91 94.50,25.87 95.30,25.83 96.10,25.79 96.89,25.75 97.69,25.71 98.49,25.67 99.29,25.63 100.09,25.59 100.89,25.55 101.69,25.52 102.49,25.48 103.29,25.44 104.09,25.40 104.88,25.36 105.68,25.32 106.48,25.28 107.28,25.24 108.08,25.21 108.88,25.17 109.68,25.13 110.48,25.10 111.28,25.06 112.08,25.03 112.88,25.00 113.68,24.97 114.48,24.95 115.28,24.92 116.07,24.90 116.87,24.88 117.67,24.86 118.47,24.84 119.27,24.83 120.07,24.81 120.87,24.80 121.67,24.79 122.47,24.79 123.27,24.78 124.07,24.77 124.87,24.77 125.67,24.77 126.47,24.76 127.27,24.76 128.07,24.76 128.87,24.76 129.67,24.76 130.47,24.75 131.27,24.75 132.07,24.75 132.87,24.75 133.67,24.75 134.47,24.75 135.27,24.75 136.07,24.75 136.87,24.75 137.67,24.75 138.47,24.75 139.27,24.75 140.07,24.75 140.87,24.75 141.67,24.75 142.47,24.75 143.27,24.75 144.07,24.75 144.87,24.75 145.67,24.75 146.47,24.75 147.27,24.75 148.07,24.75 148.87,24.75 149.67,24.76 150.47,24.76 151.27,24.76 152.07,24.77 152.87,24.78 153.67,24.78 154.47,24.79 155.27,24.80 156.07,24.81 156.87,24.83 157.67,24.84 158.47,24.86 159.27,24.87 160.07,24.89 160.87,24.91 161.67,24.92 162.47,24.94 163.27,24.97 164.07,24.99 164.87,25.01 165.67,25.04 166.47,25.07 167.27,25.10 168.07,25.13 168.87,25.17 169.67,25.21 170.46,25.25 171.26,25.29 172.06,25.34 172.86,25.38 173.66,25.43 174.46,25.48 175.26,25.53 176.05,25.59 176.85,25.64 177.65,25.69 178.45,25.75 179.25,25.81 180.04,25.86 180.84,25.92 181.64,25.98 182.44,26.05 183.23,26.11 184.03,26.18 184.83,26.25 185.63,26.32 186.42,26.40 187.22,26.48 188.01,26.56 188.81,26.64 189.60,26.73 190.40,26.82 191.19,26.92 191.99,27.02 192.78,27.12 193.57,27.23 194.36,27.34 195.15,27.46 195.94,27.58 196.73,27.71 197.52,27.85 198.30,28.00 199.08,28.16 199.86,28.34 200.64,28.53 201.41,28.73 202.18,28.94 202.94,29.17 203.71,29.41 204.46,29.66 205.22,29.92 205.97,30.19 206.72,30.47 207.46,30.76 208.20,31.06 208.94,31.37 209.67,31.70 210.39,32.03 211.11,32.38 211.82,32.74 212.51,33.13 213.20,33.52 213.88,33.94 214.54,34.38 215.19,34.83 215.83,35.31 216.45,35.80 217.06,36.31 217.66,36.83 218.24,37.38 218.82,37.93 219.38,38.49 219.93,39.07 220.46,39.66 220.98,40.27 221.49,40.88 221.97,41.51 222.44,42.15 222.90,42.80 223.33,43.47 223.74,44.15 224.14,44.84 224.51,45.54 224.87,46.25 225.21,46.97 225.54,47.69 225.86,48.43 226.16,49.16 226.45,49.91 226.74,50.65 227.01,51.40 227.29,52.16 227.55,52.91 227.81,53.66 228.07,54.42 228.33,55.18 228.58,55.94 228.83,56.70 229.07,57.46 229.31,58.22 229.55,58.99 229.78,59.75 230.00,60.52 230.23,61.29 230.45,62.06 230.66,62.83 230.87,63.60 231.08,64.37 231.28,65.15 231.48,65.92 231.67,66.70 231.87,67.47 232.06,68.25 232.25,69.03 232.44,69.80 232.62,70.58 232.80,71.36 232.99,72.14 233.17,72.92 233.35,73.70 233.52,74.48 233.70,75.26 233.87,76.04 234.04,76.82 234.20,77.61 234.37,78.39 234.53,79.17 234.69,79.96 234.84,80.74 234.99,81.53 235.14,82.31 235.30,83.10 235.45,83.88 235.60,84.67 235.75,85.46 235.89,86.24 236.04,87.03 236.19,87.81 236.34,88.60 236.40,88.95 236.49,89.39 236.64,90.17 236.79,90.96 236.94,91.74 237.09,92.53 237.24,93.32 237.39,94.10 237.54,94.89 237.69,95.67 237.84,96.46 237.99,97.24 238.14,98.03 238.29,98.82 238.44,99.60 238.59,100.39 238.74,101.17 238.89,101.96 239.04,102.75 239.19,103.53 239.34,104.32 239.49,105.10 239.64,105.89 239.79,106.67 239.94,107.46 240.09,108.25 240.24,109.03 240.30,109.36 240.43,109.81 240.65,110.58 240.87,111.35 241.09,112.12 241.31,112.88 241.53,113.65 241.75,114.42 241.97,115.19 242.19,115.96 242.41,116.73 242.63,117.50 242.85,118.27 243.07,119.04 243.29,119.81 243.51,120.58 243.73,121.35 243.95,122.12 244.17,122.88 244.20,123.00 244.87,122.91 245.67,122.81 246.46,122.71 247.26,122.61 248.05,122.51 248.10,122.51 248.26,121.78 248.44,121.00 248.62,120.22 248.80,119.44 248.98,118.66 249.15,117.88 249.33,117.10 249.51,116.32 249.69,115.54 249.86,114.76 250.04,113.98 250.22,113.20 250.40,112.42 250.58,111.64 250.75,110.86 250.93,110.08 251.11,109.30 251.29,108.52 251.46,107.74 251.64,106.96 251.82,106.18 252.00,105.41 252.00,105.40 252.14,104.61 252.29,103.82 252.44,103.04 252.58,102.25 252.73,101.46 252.87,100.68 253.02,99.89 253.16,99.10 253.31,98.32 253.45,97.53 253.60,96.74 253.75,95.96 253.89,95.17 254.05,94.38 254.20,93.60 254.35,92.81 254.50,92.03 254.66,91.24 254.82,90.46 254.98,89.68 255.15,88.89 255.31,88.11 255.48,87.33 255.65,86.55 255.81,85.76 255.98,84.98 256.15,84.20 256.32,83.42 256.48,82.64 256.65,81.85 256.82,81.07 256.99,80.29 257.16,79.51 257.32,78.72 257.49,77.94 257.66,77.16 257.83,76.38 258.00,75.60 258.17,74.81 258.34,74.03 258.51,73.25 258.68,72.47 258.85,71.69 259.03,70.91 259.21,70.13 259.39,69.35 259.57,68.57 259.76,67.80 259.96,67.02 260.16,66.25 260.36,65.47 260.57,64.70 260.78,63.93 261.00,63.16 261.21,62.39 261.43,61.62 261.66,60.85 261.88,60.08 262.11,59.32 262.34,58.55 262.57,57.79 262.81,57.02 263.05,56.26 263.29,55.50 263.55,54.74 263.81,53.98 264.08,53.23 264.36,52.49 264.66,51.75 264.96,51.01 265.29,50.29 265.63,49.57 266.00,48.86 266.38,48.17 266.78,47.48 267.20,46.81 267.65,46.15 268.11,45.51 268.59,44.87 269.09,44.25 269.60,43.64 270.12,43.04 270.66,42.45 271.21,41.87 271.76,41.30 272.33,40.74 272.91,40.19 273.50,39.65 274.10,39.13 274.71,38.62 275.33,38.12 275.97,37.64 276.61,37.18 277.27,36.73 277.94,36.30 278.62,35.88 279.30,35.47 279.99,35.07 280.69,34.69 281.40,34.32 282.11,33.95 282.83,33.60 283.55,33.26 284.28,32.93 285.01,32.61 285.74,32.29 286.48,31.99 287.22,31.69 287.97,31.41 288.72,31.13 289.47,30.87 290.23,30.61 290.99,30.37 291.75,30.13 292.52,29.90 293.29,29.68 294.06,29.47 294.83,29.26 295.61,29.06 296.38,28.87 297.16,28.68 297.94,28.49 298.71,28.31 299.49,28.13 300.28,27.96 301.06,27.79 301.84,27.62 302.62,27.47 303.41,27.32 304.20,27.17 304.98,27.04 305.77,26.91 306.56,26.79 307.35,26.67 308.15,26.56 308.94,26.45 309.73,26.35 310.53,26.25 311.32,26.16 312.11,26.06 312.91,25.97 313.70,25.88 314.50,25.80 315.29,25.71 316.09,25.63 316.89,25.54 317.68,25.46 318.48,25.39 319.27,25.31 320.07,25.24 320.87,25.17 321.66,25.10 322.46,25.04 323.26,24.98 324.06,24.92 324.86,24.87 325.65,24.81 326.45,24.76 327.25,24.71 328.05,24.66 328.85,24.62 329.65,24.57 330.44,24.53 331.24,24.49 332.04,24.45 332.84,24.41 333.64,24.37 334.44,24.33 335.24,24.30 336.04,24.26 336.84,24.23 337.64,24.20 338.44,24.17 339.24,24.14 340.04,24.11 340.83,24.08 341.63,24.05 342.43,24.03 343.23,24.00 344.03,23.98 344.83,23.96 345.63,23.94 346.43,23.91 347.23,23.89 348.03,23.87 348.83,23.85 349.63,23.84 350.43,23.82 351.23,23.80 352.03,23.78 352.83,23.76 353.63,23.75 354.43,23.73 355.23,23.71 356.03,23.69 356.83,23.68 357.63,23.66 358.43,23.64 359.23,23.62 360.03,23.61 360.83,23.59 361.63,23.57 362.43,23.56 363.23,23.54 364.03,23.53 364.83,23.51 365.63,23.50 366.43,23.48 367.23,23.47 368.03,23.45 368.83,23.44 369.63,23.42 370.43,23.41 371.23,23.40 372.03,23.38 372.83,23.37 373.63,23.36 374.43,23.35 375.23,23.34 376.03,23.33 376.83,23.31 377.63,23.30 378.43,23.29 379.23,23.28 380.03,23.27 380.83,23.26 381.63,23.25 382.43,23.24 383.23,23.23 384.03,23.22 384.83,23.21 385.63,23.20 386.43,23.19 387.23,23.18 388.03,23.17 388.83,23.16 389.62,23.15 390.42,23.14 391.22,23.13 392.02,23.13 392.82,23.12 393.62,23.11 394.42,23.10 395.22,23.09 396.02,23.08 396.82,23.07 397.62,23.07 398.42,23.06 399.22,23.05 400.02,23.05 400.82,23.04 401.62,23.03 402.42,23.03 403.22,23.02 404.02,23.02 404.82,23.01 405.62,23.01 406.42,23.00 407.22,23.00 408.02,23.00 408.82,22.99 409.62,22.99 410.42,22.99 411.22,22.98 412.02,22.98 412.82,22.98 413.62,22.97 414.42,22.97 415.22,22.97 416.02,22.96 416.82,22.96 417.62,22.96 418.42,22.96 419.22,22.95 420.02,22.95 420.82,22.95 421.62,22.94 422.42,22.94 423.22,22.94 424.02,22.94 424.82,22.94 425.62,22.93 426.42,22.93 427.22,22.93 428.02,22.93 428.82,22.92 429.62,22.92 430.42,22.92 431.22,22.92 432.02,22.92 432.82,22.91 433.62,22.91 434.42,22.91 435.22,22.91 436.02,22.91 436.82,22.91 437.62,22.90 438.42,22.90 439.22,22.90 440.02,22.90 440.82,22.90 441.62,22.90 442.42,22.90 443.22,22.89 444.02,22.89 444.82,22.89 445.62,22.89 446.42,22.89 447.22,22.89 448.02,22.89 448.82,22.89 449.62,22.89 450.42,22.88 451.22,22.88 452.02,22.88 452.82,22.88 453.62,22.88 454.42,22.88 455.22,22.88 456.02,22.88 456.82,22.88 457.62,22.87 458.42,22.87 459.22,22.87 460.02,22.87 460.82,22.87 461.62,22.87 462.42,22.87 463.22,22.87 464.02,22.87 464.82,22.87 465.62,22.87 466.42,22.87 467.22,22.86 468.02,22.86 468.82,22.86 469.62,22.86 470.42,22.86 471.22,22.86 472.02,22.86 472.82,22.86 473.62,22.86 474.42,22.86 475.22,22.86 476.02,22.86 476.82,22.86 477.62,22.86 478.42,22.85 479.22,22.85 480.02,22.85 480.82,22.85 481.62,22.85 482.42,22.85 483.22,22.85 484.02,22.85 484.82,22.85 485.62,22.85 486.42,22.85 487.22,22.85 488.02,22.85 488.82,22.85 489.62,22.85 490.42,22.85 491.22,22.85 492.02,22.85 492.82,22.85 493.62,22.85 494.42,22.85 495.22,22.85 496.02,22.85 496.82,22.85 497.62,22.85 498.42,22.85 499.22,22.85 500.02,22.85 500.82,22.85 501.62,22.86 502.42,22.86 503.22,22.86 504.02,22.86 504.82,22.86 505.62,22.86 506.42,22.86 507.22,22.87 508.02,22.87 508.82,22.87 509.62,22.87 510.42,22.87 511.22,22.88 512.02,22.88 512.82,22.88 513.62,22.89 514.42,22.89 515.22,22.89 516.02,22.89 516.82,22.90 517.62,22.90 518.42,22.90 519.22,22.91 520.02,22.91 520.82,22.92 521.62,22.92 522.42,22.93 523.22,22.93 524.02,22.93 524.82,22.94 525.62,22.95 526.42,22.95 527.22,22.96 528.02,22.96 528.82,22.97 529.62,22.98 530.42,22.99 531.22,23.00 532.02,23.01 532.82,23.02 533.62,23.03 534.42,23.04 535.22,23.06 536.02,23.07 536.82,23.08 537.62,23.10 538.42,23.11 539.22,23.13 540.02,23.14 540.82,23.15 541.62,23.17 542.42,23.18 543.22,23.20 544.02,23.22 544.82,23.23 545.62,23.25 546.42,23.26 547.22,23.28 548.02,23.29 548.82,23.31 549.62,23.32 550.42,23.34 551.22,23.36 552.02,23.37 552.82,23.39 553.62,23.41 554.42,23.43 555.22,23.45 556.02,23.47 556.82,23.48 557.62,23.50 558.42,23.52 559.22,23.55 560.02,23.57 560.82,23.59 561.62,23.61 562.42,23.64 563.22,23.66 564.02,23.69 564.82,23.71 565.61,23.75 566.41,23.78 567.21,23.82 568.01,23.86 568.81,23.90 569.61,23.95 570.41,24.00 571.21,24.05 572.00,24.11 572.80,24.17 573.60,24.23 574.40,24.30 575.19,24.37 575.99,24.44 576.79,24.51 577.58,24.59 578.38,24.67 579.17,24.76 579.97,24.85 580.76,24.94 581.55,25.04 582.35,25.15 583.14,25.27 583.93,25.39 584.72,25.52 585.51,25.65 586.29,25.79 587.08,25.93 587.87,26.08 588.65,26.23 589.43,26.39 590.22,26.55 591.00,26.72 591.78,26.89 592.56,27.06 593.34,27.25 594.11,27.44 594.88,27.65 595.65,27.87 596.41,28.10 597.17,28.35 597.91,28.62 598.65,28.91 599.38,29.22 600.10,29.56 600.80,29.92 601.49,30.31 602.17,30.72 602.82,31.16 603.46,31.62 604.09,32.11 604.70,32.61 605.29,33.14 605.87,33.69 606.43,34.25 606.97,34.83 607.50,35.42 608.01,36.03 608.50,36.66 608.97,37.29 609.43,37.95 609.86,38.61 610.28,39.29 610.68,39.97 611.07,40.67 611.43,41.38 611.79,42.09 612.13,42.81 612.45,43.54 612.76,44.27 613.06,45.01 613.35,45.76 613.62,46.51 613.87,47.26 614.11,48.02 614.34,48.79 614.55,49.56 614.75,50.33 614.94,51.10 615.12,51.88 615.29,52.66 615.45,53.45 615.61,54.23 615.76,55.01 615.91,55.80 616.06,56.59 616.21,57.37 616.36,58.16 616.50,58.94 616.65,59.73 616.79,60.52 616.94,61.31 617.08,62.09 617.23,62.88 617.37,63.67 617.51,64.45 617.65,65.24 617.79,66.03 617.93,66.82 618.06,67.61 618.20,68.39 618.33,69.18 618.47,69.97 618.61,70.76 618.74,71.55 618.84,72.34 618.94,73.14 619.04,73.93 619.14,74.72 619.24,75.52 619.34,76.31 619.44,77.10 619.54,77.90 619.64,78.69 619.74,79.49 619.84,80.28 619.94,81.07 620.03,81.87 620.10,82.42 620.12,82.66 620.18,83.46 620.24,84.26 620.30,85.06 620.35,85.85 620.41,86.65 620.47,87.45 620.53,88.25 620.58,89.05 620.64,89.84 620.70,90.64 620.76,91.44 620.82,92.24 620.87,93.03 620.93,93.83 620.99,94.63 621.05,95.43 621.10,96.23 621.16,97.02 621.22,97.82 621.28,98.62 621.34,99.42 621.39,100.22 621.45,101.01 621.51,101.81 621.57,102.61 621.63,103.41 621.68,104.21 621.74,105.00 621.80,105.80 621.86,106.60 621.91,107.40 621.97,108.19 622.03,108.99 622.09,109.79 622.15,110.59 622.20,111.39 622.26,112.18 622.32,112.98 622.38,113.78 622.44,114.58 622.49,115.38 622.55,116.17 622.61,116.97 622.67,117.77 622.72,118.57 622.78,119.37 622.84,120.16 622.90,120.96 622.96,121.76 623.01,122.56 623.07,123.36 623.13,124.15 623.19,124.95 623.24,125.75 623.30,126.55 623.36,127.34 623.42,128.14 623.48,128.94 623.53,129.74 623.59,130.54 623.65,131.33 623.71,132.13 623.77,132.93 623.82,133.73 623.88,134.53 623.94,135.32 624.00,136.12 624.00,136.19 624.04,136.92 624.08,137.72 624.13,138.52 624.17,139.32 624.22,140.12 624.26,140.91 624.30,141.71 624.35,142.51 624.39,143.31 624.43,144.11 624.48,144.91 624.52,145.71 624.56,146.51 624.61,147.31 624.65,148.10 624.69,148.90 624.74,149.70 624.78,150.50 624.82,151.30 624.87,152.10 624.91,152.90 624.95,153.70 625.00,154.49 625.04,155.29 625.08,156.09 625.13,156.89 625.17,157.69 625.21,158.49 625.26,159.29 625.30,160.09 625.34,160.89 625.39,161.68 625.43,162.48 625.47,163.28 625.52,164.08 625.56,164.88 625.60,165.68 625.65,166.48 625.69,167.28 625.74,168.07 625.78,168.87 625.82,169.67 625.87,170.47 625.91,171.27 625.95,172.07 626.00,172.87 626.04,173.67 626.08,174.46 626.13,175.26 626.17,176.06 626.21,176.86 626.26,177.66 626.30,178.46 626.34,179.26 626.39,180.06 626.43,180.86 626.47,181.65 626.52,182.45 626.56,183.25 626.60,184.05 626.65,184.85 626.69,185.65 626.73,186.45 626.78,187.25 626.82,188.04 626.86,188.84 626.91,189.64 626.95,190.44 626.99,191.24 627.04,192.04 627.08,192.84 627.12,193.64 627.17,194.44 627.21,195.23 627.25,196.03 627.30,196.83 627.34,197.63 627.39,198.43 627.43,199.23 627.47,200.03 627.52,200.83 627.56,201.62 627.60,202.42 627.65,203.22 627.69,204.02 627.73,204.82 627.78,205.62 627.82,206.42 627.86,207.22 627.90,207.90 627.91,207.79 627.94,206.99 627.97,206.19 628.01,205.39 628.04,204.59 628.08,203.79 628.11,202.99 628.15,202.19 628.18,201.39 628.22,200.59 628.25,199.79 628.29,198.99 628.32,198.19 628.36,197.39 628.39,196.60 628.43,195.80 628.46,195.00 628.50,194.20 628.53,193.40 628.57,192.60 628.60,191.80 628.63,191.00 628.67,190.20 628.70,189.40 628.74,188.60 628.77,187.80 628.81,187.00 628.84,186.21 628.88,185.41 628.91,184.61 628.95,183.81 628.98,183.01 629.02,182.21 629.05,181.41 629.09,180.61 629.12,179.81 629.16,179.01 629.19,178.21 629.23,177.41 629.26,176.61 629.29,175.82 629.33,175.02 629.36,174.22 629.40,173.42 629.43,172.62 629.47,171.82 629.50,171.02 629.54,170.22 629.57,169.42 629.61,168.62 629.64,167.82 629.68,167.02 629.71,166.22 629.75,165.43 629.78,164.63 629.82,163.83 629.85,163.03 629.89,162.23 629.92,161.43 629.96,160.63 629.99,159.83 630.02,159.03 630.06,158.23 630.09,157.43 630.13,156.63 630.16,155.83 630.20,155.03 630.23,154.24 630.27,153.44 630.30,152.64 630.34,151.84 630.37,151.04 630.41,150.24 630.44,149.44 630.48,148.64 630.51,147.84 630.55,147.04 630.58,146.24 630.62,145.44 630.65,144.64 630.68,143.85 630.72,143.05 630.75,142.25 630.79,141.45 630.82,140.65 630.86,139.85 630.89,139.05 630.93,138.25 630.96,137.45 631.00,136.65 631.03,135.85 631.07,135.05 631.10,134.25 631.14,133.46 631.17,132.66 631.21,131.86 631.24,131.06 631.28,130.26 631.31,129.46 631.34,128.66 631.38,127.86 631.41,127.06 631.45,126.26 631.48,125.46 631.52,124.66 631.55,123.86 631.59,123.07 631.62,122.27 631.66,121.47 631.69,120.67 631.73,119.87 631.76,119.07 631.80,118.27 631.80,118.24 631.86,117.47 631.93,116.68 632.00,115.88 632.06,115.08 632.13,114.28 632.20,113.49 632.26,112.69 632.33,111.89 632.40,111.09 632.47,110.30 632.53,109.50 632.60,108.70 632.67,107.91 632.73,107.11 632.80,106.31 632.87,105.51 632.93,104.72 633.00,103.92 633.07,103.12 633.13,102.33 633.20,101.53 633.27,100.73 633.34,99.93 633.40,99.14 633.47,98.34 633.54,97.54 633.60,96.75 633.67,95.95 633.74,95.15 633.80,94.35 633.87,93.56 633.94,92.76 634.01,91.96 634.07,91.16 634.14,90.37 634.21,89.57 634.27,88.77 634.34,87.98 634.41,87.18 634.47,86.38 634.54,85.58 634.61,84.79 634.67,83.99 634.74,83.19 634.81,82.40 634.88,81.60 634.94,80.80 635.01,80.00 635.08,79.21 635.14,78.41 635.21,77.61 635.28,76.82 635.34,76.02 635.41,75.22 635.48,74.42 635.55,73.63 635.61,72.83 635.68,72.03 635.70,71.84 635.80,71.24 635.95,70.46 636.09,69.67 636.23,68.88 636.37,68.09 636.52,67.31 636.66,66.52 636.80,65.73 636.95,64.95 637.10,64.16 637.25,63.37 637.40,62.59 637.55,61.80 637.70,61.02 637.85,60.23 638.01,59.45 638.16,58.66 638.31,57.88 638.46,57.09 638.62,56.31 638.78,55.52 638.94,54.74 639.10,53.96 639.27,53.17 639.45,52.39 639.63,51.62 639.82,50.84 640.02,50.07 640.23,49.30 640.46,48.54 640.71,47.78 640.98,47.04 641.26,46.29 641.57,45.56 641.89,44.83 642.23,44.11 642.59,43.40 642.96,42.70 643.34,42.00 643.74,41.31 644.15,40.62 644.57,39.94 645.00,39.27 645.44,38.61 645.91,37.97 646.38,37.33 646.88,36.71 647.39,36.11 647.93,35.52 648.48,34.95 649.05,34.40 649.64,33.87 650.24,33.36 650.87,32.87 651.50,32.40 652.16,31.95 652.83,31.52 653.51,31.11 654.20,30.71 654.90,30.34 655.61,29.97 656.33,29.63 657.05,29.29 657.78,28.98 658.52,28.67 659.26,28.38 660.01,28.10 660.76,27.84 661.52,27.58 662.28,27.34 663.04,27.11 663.81,26.90 664.58,26.69 665.36,26.50 666.14,26.32 666.92,26.15 667.70,25.99 668.48,25.84 669.27,25.69 670.06,25.55 670.85,25.42 671.64,25.29 672.43,25.17 673.22,25.05 674.01,24.93 674.80,24.82 675.59,24.70 676.38,24.60 677.18,24.49 677.97,24.39 678.77,24.30 679.56,24.21 680.36,24.13 681.15,24.05 681.95,23.98 682.74,23.91 683.54,23.85 684.34,23.80 685.14,23.74 685.94,23.70 686.73,23.65 687.53,23.62 688.33,23.58 689.13,23.55 689.93,23.52 690.73,23.49 691.53,23.46 692.33,23.43 693.13,23.41 693.93,23.38 694.73,23.36 695.53,23.34 696.33,23.31 697.13,23.29 697.93,23.27 698.73,23.25 699.53,23.22 700.33,23.20 701.13,23.18 701.93,23.16 702.73,23.14 703.53,23.12 704.33,23.10 705.13,23.08 705.92,23.06 706.72,23.04 707.52,23.03 708.32,23.01 709.12,23.00 709.92,22.98 710.72,22.97 711.52,22.95 712.32,22.94 713.12,22.93 713.92,22.92 714.72,22.91 715.52,22.90 716.32,22.89 717.12,22.88 717.92,22.87 718.72,22.86 719.52,22.85 720.32,22.84 721.12,22.83 721.92,22.83 722.72,22.82 723.52,22.81 724.32,22.80 725.12,22.79 725.92,22.79 726.72,22.78 727.52,22.77 728.32,22.76 729.12,22.76 729.92,22.75 730.72,22.74 731.52,22.74 732.32,22.73 733.12,22.72 733.92,22.72 734.72,22.71 735.52,22.71 736.32,22.70 737.12,22.70 737.92,22.70 738.72,22.69 739.52,22.69 740.32,22.68 741.12,22.68 741.92,22.67 742.72,22.67 743.52,22.67 744.32,22.66 745.12,22.66 745.92,22.65 746.72,22.65 747.52,22.65 748.32,22.64 749.12,22.64 749.92,22.63 750.72,22.63 751.52,22.63 752.32,22.62 753.12,22.62 753.92,22.62 754.72,22.61 755.52,22.61 756.32,22.60 757.12,22.60 757.92,22.60 758.72,22.59 759.52,22.59 760.32,22.59 761.12,22.58 761.92,22.58 762.72,22.57 763.52,22.57 764.32,22.57 765.12,22.56 765.92,22.56 766.72,22.56 767.52,22.55 768.32,22.55 769.12,22.55 769.92,22.54 770.72,22.54 771.52,22.53 772.32,22.53 773.12,22.53 773.92,22.52 774.72,22.52 775.52,22.52 776.32,22.51 777.12,22.51 777.92,22.51 778.72,22.51 779.52,22.50 780.32,22.50 781.12,22.50 781.92,22.49 782.72,22.49 783.52,22.49 784.32,22.48 785.12,22.48 785.92,22.48 786.72,22.47 787.52,22.47 788.32,22.47 789.12,22.47 789.92,22.46 790.72,22.46 791.52,22.46 792.32,22.45 793.12,22.45 793.92,22.45 794.72,22.45 795.52,22.44 796.32,22.44 797.12,22.44 797.92,22.43 798.72,22.43 799.52,22.43 800.32,22.43 801.12,22.42 801.92,22.42 802.72,22.42 803.52,22.42 804.32,22.42 805.12,22.41 805.92,22.41 806.72,22.41 807.52,22.41 808.32,22.40 809.12,22.40 809.92,22.40 810.72,22.40 811.52,22.40 812.32,22.40 813.11,22.40 813.90,22.40 814.68,22.40 815.49,22.39 816.31,22.39 817.12,22.39 817.92,22.39 818.72,22.39 819.52,22.40 820.32,22.40 820.33,22.40" fill="none" stroke="#ff0000" stroke-width="3.9" stroke-linejoin="miter" stroke-miterlimit="4"/>
</g>
<g clip-path="url(#cb)">
<polyline points="52.21,312.17 53.01,312.17 53.81,312.18 54.61,312.18 55.41,312.19 56.21,312.20 57.04,312.20 57.85,312.21 58.63,312.21 59.42,312.22 60.21,312.23 61.01,312.23 61.81,312.24 62.61,312.24 63.41,312.25 64.21,312.26 65.01,312.26 65.81,312.27 66.61,312.27 67.41,312.28 68.21,312.29 69.01,312.29 69.81,312.30 70.61,312.31 71.41,312.31 72.21,312.32 73.01,312.32 73.81,312.33 74.61,312.34 75.41,312.34 76.21,312.35 77.01,312.36 77.81,312.36 78.61,312.37 79.41,312.38 80.21,312.38 81.01,312.39 81.81,312.40 82.61,312.41 83.41,312.41 84.21,312.42 85.01,312.43 85.81,312.43 86.61,312.44 87.41,312.45 88.21,312.46 89.01,312.46 89.81,312.47 90.61,312.48 91.41,312.49 92.21,312.49 93.01,312.50 93.81,312.51 94.61,312.52 95.41,312.53 96.21,312.53 97.01,312.54 97.81,312.55 98.61,312.56 99.41,312.57 100.21,312.57 101.01,312.58 101.81,312.59 102.61,312.60 103.41,312.61 104.21,312.62 105.01,312.63 105.81,312.64 106.60,312.64 107.40,312.65 108.20,312.66 109.00,312.67 109.80,312.68 110.60,312.69 111.40,312.70 112.20,312.71 113.00,312.72 113.80,312.73 114.60,312.74 115.40,312.75 116.20,312.76 117.00,312.77 117.80,312.78 118.60,312.79 119.40,312.81 120.20,312.82 121.00,312.83 121.80,312.84 122.60,312.85 123.40,312.86 124.20,312.87 125.00,312.89 125.80,312.90 126.60,312.91 127.40,312.92 128.20,312.94 129.00,312.95 129.80,312.96 130.60,312.98 131.40,312.99 132.20,313.00 133.00,313.02 133.80,313.03 134.60,313.05 135.40,313.06 136.20,313.08 137.00,313.09 137.80,313.11 138.60,313.12 139.40,313.14 140.20,313.16 141.00,313.17 141.80,313.19 142.60,313.21 143.40,313.23 144.20,313.24 145.00,313.26 145.80,313.28 146.60,313.30 147.40,313.32 148.20,313.34 149.00,313.36 149.80,313.38 150.60,313.40 151.40,313.42 152.20,313.45 153.00,313.47 153.80,313.49 154.60,313.52 155.40,313.54 156.20,313.56 157.00,313.59 157.79,313.62 158.59,313.65 159.39,313.68 160.19,313.71 160.99,313.75 161.79,313.79 162.59,313.84 163.38,313.90 164.18,313.96 164.98,314.03 165.77,314.11 166.57,314.19 167.36,314.27 168.16,314.36 168.95,314.44 169.75,314.53 170.54,314.61 171.34,314.69 172.14,314.77 172.93,314.84 173.73,314.91 174.53,314.98 175.32,315.05 176.12,315.11 176.92,315.18 177.72,315.24 178.51,315.30 179.31,315.37 180.11,315.43 180.91,315.50 181.70,315.57 182.50,315.65 183.29,315.72 184.09,315.81 184.88,315.90 185.68,315.99 186.47,316.09 187.26,316.20 188.05,316.31 188.85,316.43 189.63,316.56 190.42,316.70 191.21,316.84 192.00,316.98 192.78,317.13 193.57,317.29 194.35,317.45 195.13,317.61 195.91,317.78 196.69,317.96 197.47,318.14 198.25,318.33 199.02,318.53 199.79,318.74 200.56,318.96 201.32,319.19 202.08,319.44 202.83,319.70 203.58,319.98 204.32,320.27 205.06,320.57 205.79,320.89 206.51,321.23 207.22,321.59 207.92,321.97 208.61,322.36 209.29,322.77 209.96,323.20 210.62,323.65 211.27,324.11 211.90,324.59 212.52,325.09 213.14,325.60 213.73,326.12 214.32,326.66 214.89,327.22 215.45,327.79 215.99,328.37 216.52,328.96 217.04,329.57 217.54,330.19 218.04,330.81 218.52,331.45 218.99,332.09 219.45,332.74 219.89,333.41 220.32,334.08 220.74,334.75 221.14,335.44 221.53,336.14 221.90,336.84 222.26,337.56 222.60,338.28 222.93,339.00 223.25,339.74 223.55,340.47 223.84,341.22 224.13,341.96 224.41,342.71 224.67,343.47 224.93,344.22 225.19,344.98 225.43,345.74 225.68,346.50 225.91,347.27 226.14,348.03 226.37,348.80 226.59,349.57 226.81,350.34 227.03,351.11 227.24,351.88 227.45,352.65 227.65,353.42 227.85,354.20 228.05,354.97 228.24,355.75 228.43,356.52 228.62,357.30 228.80,358.08 228.98,358.86 229.15,359.64 229.32,360.42 229.48,361.21 229.64,361.99 229.80,362.78 229.95,363.56 230.10,364.35 230.24,365.13 230.39,365.92 230.52,366.71 230.66,367.50 230.79,368.29 230.92,369.07 231.05,369.86 231.17,370.65 231.30,371.44 231.42,372.24 231.54,373.03 231.66,373.82 231.77,374.61 231.89,375.40 232.00,376.19 232.11,376.99 232.22,377.78 232.33,378.57 232.44,379.36 232.55,380.15 232.66,380.95 232.76,381.74 232.87,382.53 232.98,383.33 233.08,384.12 233.18,384.91 233.29,385.71 233.39,386.50 233.49,387.29 233.59,388.09 233.69,388.88 233.80,389.67 233.90,390.47 234.00,391.26 234.09,392.05 234.19,392.85 234.29,393.64 234.39,394.44 234.48,395.23 234.58,396.03 234.68,396.82 234.77,397.61 234.86,398.41 234.95,399.20 235.03,400.00 235.12,400.79 235.21,401.59 235.29,402.39 235.38,403.18 235.47,403.98 235.55,404.77 235.64,405.57 235.73,406.36 235.81,407.16 235.90,407.95 235.99,408.75 236.07,409.54 236.16,410.34 236.25,411.13 236.30,411.65 236.33,411.93 236.42,412.72 236.51,413.52 236.60,414.31 236.69,415.11 236.77,415.90 236.86,416.70 236.95,417.49 237.04,418.29 237.13,419.09 237.21,419.88 237.30,420.68 237.39,421.47 237.48,422.27 237.56,423.06 237.65,423.86 237.74,424.65 237.83,425.45 237.92,426.24 238.00,427.04 238.09,427.83 238.18,428.63 238.27,429.42 238.36,430.22 238.44,431.01 238.53,431.81 238.62,432.60 238.71,433.40 238.79,434.19 238.88,434.99 238.97,435.78 239.06,436.58 239.15,437.37 239.23,438.17 239.32,438.96 239.41,439.76 239.50,440.55 239.58,441.35 239.67,442.14 239.76,442.94 239.85,443.74 239.94,444.53 240.02,445.33 240.11,446.12 240.20,446.92 240.20,446.93 240.34,447.70 240.48,448.49 240.62,449.28 240.76,450.07 240.90,450.85 241.04,451.64 241.19,452.43 241.33,453.22 241.47,454.00 241.61,454.79 241.75,455.58 241.89,456.37 242.03,457.15 242.17,457.94 242.31,458.73 242.46,459.52 242.60,460.30 242.74,461.09 242.88,461.88 243.02,462.67 243.16,463.45 243.30,464.24 243.44,465.03 243.58,465.82 243.72,466.60 243.87,467.39 244.01,468.18 244.10,468.70 244.33,468.55 245.00,468.12 245.67,467.69 246.35,467.26 247.02,466.83 247.70,466.40 248.00,466.20 248.07,465.77 248.21,464.98 248.34,464.19 248.47,463.40 248.61,462.61 248.74,461.83 248.88,461.04 249.01,460.25 249.14,459.46 249.28,458.67 249.41,457.88 249.55,457.09 249.68,456.31 249.81,455.52 249.95,454.73 250.08,453.94 250.22,453.15 250.35,452.36 250.48,451.57 250.62,450.78 250.75,450.00 250.89,449.21 251.02,448.42 251.16,447.63 251.29,446.84 251.42,446.05 251.56,445.26 251.69,444.47 251.83,443.69 251.90,443.27 251.94,442.89 252.02,442.10 252.11,441.30 252.19,440.51 252.28,439.71 252.36,438.92 252.44,438.12 252.53,437.33 252.61,436.53 252.70,435.73 252.78,434.94 252.87,434.14 252.95,433.35 253.03,432.55 253.11,431.76 253.19,430.96 253.27,430.16 253.36,429.37 253.44,428.57 253.52,427.78 253.60,426.98 253.67,426.18 253.75,425.39 253.83,424.59 253.91,423.80 253.98,423.00 254.06,422.20 254.13,421.41 254.21,420.61 254.28,419.81 254.35,419.02 254.43,418.22 254.50,417.42 254.57,416.63 254.64,415.83 254.71,415.03 254.78,414.24 254.85,413.44 254.91,412.64 254.98,411.84 255.05,411.05 255.11,410.25 255.18,409.45 255.24,408.66 255.31,407.86 255.38,407.06 255.45,406.26 255.52,405.47 255.60,404.67 255.68,403.88 255.76,403.08 255.85,402.29 255.95,401.49 256.05,400.70 256.15,399.91 256.26,399.11 256.37,398.32 256.48,397.53 256.60,396.74 256.72,395.95 256.84,395.16 256.96,394.37 257.09,393.58 257.22,392.79 257.34,392.00 257.47,391.21 257.60,390.42 257.73,389.63 257.86,388.84 257.99,388.05 258.12,387.26 258.25,386.47 258.39,385.68 258.52,384.89 258.65,384.10 258.78,383.31 258.91,382.53 259.04,381.74 259.17,380.95 259.30,380.16 259.43,379.37 259.57,378.58 259.70,377.79 259.83,377.00 259.96,376.21 260.09,375.42 260.23,374.63 260.36,373.85 260.49,373.06 260.63,372.27 260.76,371.48 260.90,370.69 261.04,369.90 261.18,369.12 261.33,368.33 261.47,367.54 261.62,366.76 261.78,365.97 261.93,365.19 262.09,364.41 262.26,363.62 262.43,362.84 262.61,362.06 262.79,361.28 262.97,360.50 263.16,359.73 263.36,358.95 263.56,358.18 263.77,357.41 263.98,356.64 264.20,355.87 264.43,355.10 264.66,354.34 264.90,353.57 265.15,352.81 265.40,352.05 265.66,351.30 265.93,350.55 266.20,349.79 266.48,349.05 266.78,348.30 267.08,347.56 267.39,346.83 267.71,346.10 268.04,345.37 268.38,344.65 268.73,343.93 269.10,343.22 269.48,342.52 269.86,341.82 270.27,341.13 270.68,340.45 271.11,339.78 271.55,339.11 272.00,338.46 272.47,337.81 272.94,337.17 273.43,336.53 273.92,335.91 274.43,335.29 274.94,334.68 275.47,334.08 276.00,333.49 276.55,332.91 277.11,332.33 277.67,331.77 278.25,331.22 278.83,330.67 279.42,330.14 280.03,329.62 280.64,329.11 281.26,328.61 281.90,328.13 282.55,327.67 283.20,327.22 283.87,326.78 284.55,326.36 285.23,325.96 285.93,325.57 286.63,325.19 287.34,324.82 288.05,324.47 288.77,324.12 289.50,323.79 290.23,323.46 290.96,323.15 291.70,322.84 292.44,322.54 293.19,322.25 293.94,321.97 294.69,321.70 295.44,321.45 296.20,321.20 296.96,320.96 297.73,320.74 298.50,320.52 299.27,320.32 300.05,320.12 300.82,319.93 301.60,319.75 302.38,319.57 303.16,319.40 303.94,319.22 304.72,319.05 305.51,318.88 306.29,318.72 307.07,318.55 307.85,318.39 308.64,318.22 309.42,318.06 310.21,317.91 310.99,317.76 311.78,317.61 312.56,317.48 313.35,317.34 314.14,317.22 314.93,317.11 315.73,317.00 316.52,316.90 317.31,316.81 318.11,316.73 318.90,316.66 319.70,316.59 320.50,316.53 321.30,316.47 322.09,316.41 322.89,316.36 323.69,316.30 324.49,316.25 325.29,316.20 326.09,316.16 326.88,316.11 327.68,316.06 328.48,316.01 329.28,315.97 330.08,315.92 330.88,315.88 331.68,315.83 332.48,315.79 333.27,315.75 334.07,315.71 334.87,315.66 335.67,315.62 336.47,315.59 337.27,315.55 338.07,315.51 338.87,315.48 339.67,315.44 340.47,315.41 341.27,315.38 342.06,315.35 342.86,315.32 343.66,315.29 344.46,315.27 345.26,315.25 346.06,315.22 346.86,315.20 347.66,315.19 348.46,315.17 349.26,315.15 350.06,315.14 350.86,315.12 351.66,315.11 352.46,315.09 353.26,315.08 354.06,315.07 354.86,315.05 355.66,315.04 356.46,315.03 357.26,315.01 358.06,315.00 358.86,314.99 359.66,314.98 360.46,314.96 361.26,314.95 362.06,314.94 362.86,314.92 363.66,314.91 364.46,314.90 365.26,314.89 366.06,314.87 366.86,314.86 367.66,314.85 368.46,314.84 369.26,314.83 370.06,314.81 370.86,314.80 371.66,314.79 372.46,314.78 373.26,314.77 374.06,314.75 374.86,314.74 375.66,314.73 376.46,314.72 377.26,314.71 378.06,314.70 378.86,314.69 379.66,314.67 380.46,314.66 381.26,314.65 382.06,314.64 382.86,314.63 383.66,314.62 384.46,314.61 385.26,314.60 386.06,314.58 386.86,314.57 387.66,314.56 388.46,314.55 389.26,314.54 390.06,314.53 390.86,314.52 391.66,314.51 392.46,314.49 393.26,314.48 394.06,314.47 394.86,314.46 395.66,314.45 396.46,314.44 397.26,314.43 398.06,314.42 398.86,314.41 399.66,314.39 400.46,314.38 401.26,314.37 402.06,314.36 402.86,314.35 403.66,314.34 404.46,314.33 405.26,314.32 406.06,314.31 406.86,314.30 407.66,314.29 408.46,314.28 409.26,314.27 410.05,314.26 410.85,314.25 411.65,314.24 412.45,314.23 413.25,314.22 414.05,314.21 414.85,314.20 415.65,314.19 416.45,314.18 417.25,314.17 418.05,314.16 418.85,314.15 419.65,314.14 420.45,314.13 421.25,314.12 422.05,314.11 422.85,314.11 423.65,314.10 424.45,314.09 425.25,314.08 426.05,314.07 426.85,314.06 427.65,314.06 428.45,314.05 429.25,314.04 430.05,314.03 430.85,314.03 431.65,314.02 432.45,314.01 433.25,314.00 434.05,314.00 434.85,313.99 435.65,313.98 436.45,313.98 437.25,313.97 438.05,313.97 438.85,313.96 439.65,313.95 440.45,313.95 441.25,313.94 442.05,313.94 442.85,313.93 443.65,313.93 444.45,313.92 445.25,313.92 446.05,313.91 446.85,313.91 447.65,313.90 448.45,313.90 449.25,313.90 450.05,313.89 450.85,313.89 451.65,313.88 452.45,313.88 453.25,313.88 454.05,313.87 454.85,313.87 455.65,313.87 456.45,313.86 457.25,313.86 458.05,313.86 458.85,313.86 459.65,313.85 460.45,313.85 461.25,313.85 462.05,313.85 462.85,313.84 463.65,313.84 464.45,313.84 465.25,313.84 466.05,313.83 466.85,313.83 467.65,313.83 468.45,313.83 469.25,313.83 470.05,313.83 470.85,313.82 471.65,313.82 472.45,313.82 473.25,313.82 474.05,313.82 474.85,313.82 475.65,313.81 476.45,313.81 477.25,313.81 478.05,313.81 478.85,313.81 479.65,313.81 480.45,313.81 481.25,313.80 482.05,313.80 482.85,313.80 483.65,313.80 484.45,313.80 485.25,313.80 486.05,313.80 486.85,313.80 487.65,313.79 488.45,313.79 489.25,313.79 490.05,313.79 490.85,313.79 491.65,313.79 492.45,313.79 493.25,313.79 494.05,313.79 494.85,313.79 495.65,313.79 496.45,313.79 497.25,313.79 498.05,313.78 498.85,313.78 499.65,313.78 500.45,313.78 501.25,313.78 502.05,313.78 502.85,313.78 503.65,313.78 504.45,313.78 505.25,313.78 506.05,313.78 506.85,313.78 507.65,313.78 508.45,313.78 509.25,313.78 510.05,313.78 510.85,313.79 511.65,313.79 512.45,313.79 513.25,313.79 514.05,313.79 514.85,313.79 515.65,313.79 516.45,313.79 517.25,313.79 518.05,313.79 518.85,313.79 519.65,313.79 520.45,313.79 521.25,313.79 522.05,313.79 522.85,313.80 523.65,313.80 524.45,313.80 525.25,313.80 526.05,313.80 526.85,313.80 527.65,313.80 528.45,313.81 529.25,313.81 530.05,313.81 530.85,313.81 531.65,313.82 532.45,313.82 533.25,313.82 534.05,313.83 534.85,313.83 535.65,313.84 536.45,313.84 537.25,313.85 538.05,313.85 538.85,313.86 539.65,313.87 540.45,313.87 541.25,313.88 542.05,313.89 542.85,313.89 543.65,313.90 544.45,313.91 545.25,313.92 546.05,313.93 546.85,313.93 547.65,313.94 548.45,313.95 549.25,313.96 550.05,313.97 550.85,313.98 551.65,314.00 552.45,314.01 553.25,314.02 554.05,314.03 554.85,314.05 555.65,314.06 556.45,314.08 557.25,314.09 558.05,314.11 558.85,314.12 559.65,314.14 560.45,314.16 561.25,314.18 562.05,314.19 562.85,314.21 563.65,314.23 564.45,314.25 565.25,314.27 566.05,314.29 566.85,314.31 567.65,314.33 568.45,314.36 569.25,314.38 570.05,314.40 570.85,314.43 571.65,314.45 572.45,314.48 573.25,314.51 574.05,314.53 574.84,314.56 575.64,314.59 576.44,314.62 577.24,314.65 578.04,314.68 578.84,314.72 579.64,314.75 580.44,314.78 581.24,314.82 582.04,314.85 582.84,314.89 583.64,314.92 584.44,314.96 585.24,315.00 586.03,315.04 586.83,315.08 587.63,315.13 588.43,315.17 589.23,315.22 590.03,315.26 590.83,315.31 591.62,315.36 592.42,315.42 593.22,315.47 594.02,315.53 594.81,315.60 595.61,315.67 596.40,315.76 597.19,315.86 597.98,315.97 598.77,316.10 599.55,316.24 600.33,316.41 601.10,316.59 601.87,316.79 602.63,317.02 603.38,317.27 604.12,317.55 604.85,317.86 605.56,318.19 606.25,318.56 606.92,318.96 607.57,319.39 608.19,319.86 608.78,320.36 609.34,320.90 609.87,321.47 610.37,322.07 610.83,322.70 611.26,323.36 611.66,324.03 612.04,324.73 612.39,325.43 612.73,326.15 613.05,326.88 613.35,327.62 613.64,328.36 613.93,329.11 614.20,329.86 614.46,330.61 614.72,331.37 614.96,332.13 615.19,332.89 615.41,333.66 615.61,334.43 615.81,335.21 615.99,335.98 616.16,336.76 616.33,337.55 616.48,338.33 616.63,339.12 616.77,339.90 616.91,340.69 617.04,341.48 617.17,342.27 617.29,343.06 617.41,343.85 617.53,344.64 617.65,345.43 617.77,346.22 617.89,347.01 618.01,347.80 618.12,348.60 618.24,349.39 618.35,350.18 618.47,350.97 618.58,351.76 618.69,352.55 618.81,353.35 618.93,354.14 619.05,354.93 619.17,355.72 619.30,356.51 619.42,357.30 619.54,358.09 619.66,358.88 619.78,359.67 619.90,360.46 620.02,361.25 620.10,361.80 620.13,362.05 620.22,362.84 620.31,363.64 620.40,364.43 620.49,365.23 620.58,366.02 620.67,366.82 620.76,367.61 620.85,368.41 620.94,369.20 621.03,370.00 621.12,370.79 621.21,371.59 621.30,372.38 621.39,373.18 621.48,373.97 621.57,374.77 621.66,375.56 621.75,376.36 621.84,377.15 621.93,377.95 622.02,378.74 622.11,379.54 622.20,380.33 622.29,381.13 622.38,381.92 622.47,382.71 622.56,383.51 622.65,384.30 622.74,385.10 622.83,385.89 622.92,386.69 623.00,387.48 623.09,388.28 623.18,389.07 623.27,389.87 623.36,390.66 623.45,391.46 623.54,392.25 623.63,393.05 623.72,393.84 623.81,394.64 623.90,395.43 623.99,396.23 624.00,396.32 624.21,397.00 624.44,397.76 624.67,398.53 624.90,399.30 625.13,400.06 625.36,400.83 625.59,401.60 625.82,402.36 626.05,403.13 626.28,403.89 626.51,404.66 626.74,405.43 626.97,406.19 627.20,406.96 627.43,407.73 627.66,408.49 627.89,409.26 627.90,409.30 628.12,408.58 628.35,407.81 628.58,407.04 628.81,406.28 629.04,405.51 629.27,404.75 629.50,403.98 629.73,403.21 629.96,402.45 630.19,401.68 630.42,400.91 630.65,400.15 630.88,399.38 631.11,398.62 631.34,397.85 631.57,397.08 631.80,396.32 631.80,396.32 631.88,395.52 631.96,394.72 632.04,393.93 632.11,393.13 632.19,392.34 632.27,391.54 632.35,390.74 632.43,389.95 632.51,389.15 632.59,388.36 632.67,387.56 632.75,386.76 632.83,385.97 632.91,385.17 632.99,384.38 633.06,383.58 633.14,382.78 633.22,381.99 633.30,381.19 633.38,380.40 633.46,379.60 633.54,378.80 633.62,378.01 633.70,377.21 633.78,376.41 633.86,375.62 633.93,374.82 634.01,374.03 634.09,373.23 634.17,372.43 634.25,371.64 634.33,370.84 634.41,370.05 634.49,369.25 634.57,368.45 634.65,367.66 634.73,366.86 634.81,366.07 634.88,365.27 634.96,364.47 635.04,363.68 635.12,362.88 635.20,362.09 635.28,361.29 635.36,360.49 635.44,359.70 635.52,358.90 635.60,358.11 635.68,357.31 635.70,357.11 635.79,356.52 635.91,355.73 636.04,354.94 636.16,354.15 636.28,353.36 636.41,352.57 636.53,351.78 636.66,350.98 636.78,350.19 636.90,349.40 637.03,348.61 637.16,347.83 637.29,347.04 637.42,346.25 637.55,345.46 637.68,344.67 637.81,343.88 637.97,343.09 638.13,342.31 638.29,341.53 638.45,340.74 638.61,339.96 638.78,339.18 638.95,338.40 639.12,337.62 639.30,336.84 639.48,336.06 639.67,335.28 639.86,334.50 640.05,333.73 640.25,332.95 640.46,332.18 640.67,331.41 640.90,330.65 641.14,329.89 641.39,329.13 641.67,328.39 641.96,327.65 642.28,326.93 642.62,326.22 642.99,325.52 643.39,324.84 643.82,324.18 644.28,323.54 644.76,322.93 645.28,322.33 645.82,321.77 646.39,321.23 646.99,320.72 647.61,320.25 648.25,319.81 648.92,319.40 649.61,319.03 650.31,318.68 651.04,318.37 651.77,318.09 652.52,317.83 653.28,317.59 654.04,317.37 654.81,317.16 655.58,316.95 656.36,316.75 657.13,316.56 657.91,316.37 658.68,316.19 659.46,316.02 660.25,315.85 661.03,315.70 661.81,315.55 662.60,315.43 663.39,315.32 664.18,315.22 664.98,315.13 665.77,315.06 666.57,315.00 667.36,314.96 668.16,314.92 668.96,314.88 669.76,314.86 670.56,314.83 671.36,314.81 672.16,314.79 672.96,314.78 673.76,314.76 674.56,314.75 675.36,314.73 676.16,314.72 676.96,314.70 677.76,314.69 678.56,314.67 679.36,314.66 680.16,314.65 680.96,314.63 681.76,314.62 682.56,314.61 683.36,314.59 684.16,314.58 684.96,314.57 685.76,314.56 686.56,314.55 687.36,314.54 688.16,314.53 688.96,314.53 689.76,314.52 690.56,314.52 691.36,314.51 692.16,314.51 692.96,314.51 693.76,314.50 694.56,314.50 695.36,314.50 696.16,314.50 696.96,314.50 697.76,314.50 698.56,314.50 699.36,314.50 700.16,314.50 700.96,314.50 701.76,314.50 702.56,314.50 703.36,314.50 704.16,314.50 704.96,314.50 705.76,314.50 706.56,314.50 707.36,314.50 708.16,314.50 708.96,314.50 709.76,314.50 710.56,314.50 711.36,314.50 712.16,314.50 712.96,314.50 713.76,314.50 714.56,314.50 715.36,314.50 716.16,314.50 716.96,314.50 717.76,314.50 718.56,314.50 719.36,314.50 720.16,314.50 720.96,314.50 721.76,314.50 722.56,314.50 723.36,314.50 724.16,314.50 724.96,314.50 725.76,314.50 726.56,314.50 727.36,314.50 728.16,314.50 728.96,314.50 729.76,314.50 730.56,314.50 731.36,314.50 732.16,314.50 732.96,314.50 733.76,314.50 734.56,314.50 735.36,314.50 736.16,314.50 736.96,314.50 737.76,314.50 738.56,314.50 739.36,314.50 740.16,314.50 740.96,314.50 741.76,314.50 742.56,314.50 743.36,314.50 744.16,314.50 744.96,314.50 745.76,314.50 746.56,314.50 747.36,314.50 748.16,314.50 748.96,314.50 749.76,314.50 750.56,314.50 751.36,314.50 752.16,314.50 752.96,314.50 753.76,314.50 754.56,314.50 755.36,314.50 756.16,314.50 756.96,314.50 757.76,314.50 758.56,314.50 759.36,314.50 760.16,314.50 760.96,314.50 761.76,314.50 762.56,314.50 763.36,314.50 764.16,314.50 764.96,314.50 765.76,314.50 766.56,314.50 767.36,314.50 768.16,314.50 768.96,314.50 769.76,314.50 770.56,314.50 771.36,314.50 772.16,314.50 772.96,314.50 773.76,314.50 774.56,314.50 775.36,314.50 776.16,314.50 776.96,314.50 777.76,314.50 778.56,314.50 779.36,314.50 780.16,314.50 780.96,314.50 781.76,314.50 782.56,314.50 783.36,314.50 784.16,314.51 784.96,314.51 785.76,314.51 786.56,314.51 787.36,314.51 788.16,314.52 788.96,314.52 789.76,314.52 790.56,314.53 791.36,314.53 792.16,314.53 792.96,314.54 793.76,314.54 794.56,314.55 795.36,314.55 796.16,314.56 796.96,314.56 797.76,314.57 798.56,314.57 799.36,314.58 800.16,314.58 800.96,314.59 801.76,314.60 802.56,314.60 803.36,314.61 804.16,314.62 804.96,314.62 805.76,314.63 806.56,314.64 807.36,314.64 808.16,314.65 808.96,314.66 809.76,314.67 810.55,314.67 811.35,314.68 812.15,314.69 812.94,314.70 813.73,314.71 814.52,314.71 815.32,314.72 816.14,314.73 816.96,314.74 817.76,314.75 818.56,314.75 819.36,314.76 820.16,314.77 820.33,314.77" fill="none" stroke="#ff0000" stroke-width="3.9" stroke-linejoin="miter" stroke-miterlimit="4"/>
<polyline points="52.21,312.59 53.01,312.60 53.81,312.61 54.61,312.62 55.41,312.63 56.21,312.64 57.04,312.65 57.85,312.66 58.63,312.67 59.42,312.68 60.21,312.69 61.01,312.70 61.81,312.71 62.61,312.72 63.41,312.73 64.21,312.74 65.01,312.75 65.81,312.76 66.61,312.77 67.41,312.78 68.21,312.79 69.01,312.80 69.81,312.81 70.61,312.82 71.41,312.84 72.21,312.85 73.01,312.86 73.81,312.87 74.61,312.88 75.41,312.89 76.21,312.90 77.00,312.92 77.80,312.93 78.60,312.94 79.40,312.95 80.20,312.97 81.00,312.98 81.80,312.99 82.60,313.00 83.40,313.02 84.20,313.03 85.00,313.04 85.80,313.06 86.60,313.07 87.40,313.08 88.20,313.10 89.00,313.11 89.80,313.12 90.60,313.14 91.40,313.15 92.20,313.17 93.00,313.18 93.80,313.20 94.60,313.21 95.40,313.23 96.20,313.24 97.00,313.26 97.80,313.28 98.60,313.29 99.40,313.31 100.20,313.32 101.00,313.34 101.80,313.36 102.60,313.37 103.40,313.39 104.20,313.41 105.00,313.43 105.80,313.45 106.60,313.46 107.40,313.48 108.20,313.50 109.00,313.52 109.80,313.54 110.60,313.56 111.40,313.58 112.20,313.60 113.00,313.62 113.80,313.64 114.60,313.66 115.40,313.69 116.20,313.71 117.00,313.73 117.80,313.75 118.60,313.78 119.40,313.80 120.20,313.82 120.99,313.85 121.79,313.87 122.59,313.90 123.39,313.92 124.19,313.95 124.99,313.97 125.79,314.00 126.59,314.03 127.39,314.06 128.19,314.09 128.99,314.11 129.79,314.14 130.59,314.17 131.39,314.20 132.19,314.23 132.99,314.27 133.79,314.30 134.59,314.33 135.39,314.37 136.18,314.40 136.98,314.43 137.78,314.47 138.58,314.51 139.38,314.54 140.18,314.58 140.98,314.62 141.78,314.66 142.58,314.70 143.38,314.74 144.18,314.78 144.97,314.83 145.77,314.87 146.57,314.92 147.37,314.96 148.17,315.01 148.97,315.06 149.77,315.11 150.56,315.16 151.36,315.21 152.16,315.26 152.96,315.32 153.76,315.37 154.55,315.43 155.35,315.49 156.15,315.55 156.95,315.61 157.75,315.67 158.54,315.74 159.34,315.81 160.13,315.89 160.93,315.98 161.72,316.07 162.51,316.17 163.30,316.28 164.09,316.41 164.88,316.54 165.66,316.69 166.45,316.85 167.23,317.01 168.01,317.17 168.79,317.34 169.57,317.51 170.36,317.68 171.14,317.85 171.92,318.02 172.70,318.18 173.49,318.34 174.27,318.49 175.06,318.65 175.84,318.80 176.63,318.95 177.41,319.10 178.20,319.26 178.98,319.41 179.77,319.57 180.55,319.72 181.33,319.89 182.12,320.05 182.90,320.23 183.67,320.41 184.45,320.60 185.22,320.80 185.99,321.02 186.75,321.25 187.51,321.49 188.27,321.75 189.02,322.03 189.76,322.31 190.50,322.61 191.23,322.93 191.96,323.25 192.69,323.58 193.41,323.92 194.13,324.27 194.85,324.63 195.56,324.99 196.27,325.36 196.97,325.74 197.68,326.12 198.37,326.51 199.06,326.91 199.75,327.32 200.42,327.74 201.09,328.18 201.75,328.63 202.40,329.09 203.04,329.57 203.66,330.06 204.28,330.57 204.88,331.08 205.48,331.62 206.06,332.16 206.63,332.72 207.19,333.29 207.73,333.87 208.27,334.46 208.79,335.06 209.31,335.67 209.81,336.29 210.30,336.92 210.78,337.56 211.26,338.20 211.72,338.85 212.18,339.51 212.62,340.17 213.06,340.84 213.49,341.51 213.91,342.19 214.32,342.87 214.73,343.56 215.13,344.25 215.53,344.95 215.92,345.64 216.31,346.34 216.69,347.05 217.06,347.75 217.43,348.46 217.79,349.18 218.15,349.89 218.49,350.61 218.83,351.34 219.16,352.06 219.48,352.80 219.79,353.53 220.08,354.27 220.37,355.02 220.64,355.77 220.90,356.52 221.15,357.28 221.39,358.04 221.63,358.81 221.85,359.58 222.07,360.34 222.28,361.12 222.49,361.89 222.69,362.66 222.89,363.44 223.09,364.21 223.29,364.99 223.48,365.76 223.67,366.54 223.87,367.32 224.06,368.09 224.25,368.87 224.43,369.65 224.62,370.43 224.80,371.20 224.99,371.98 225.17,372.76 225.34,373.54 225.52,374.32 225.70,375.10 225.87,375.88 226.04,376.67 226.20,377.45 226.37,378.23 226.53,379.01 226.69,379.80 226.84,380.58 227.00,381.37 227.15,382.15 227.29,382.94 227.44,383.73 227.58,384.51 227.72,385.30 227.86,386.09 228.00,386.88 228.13,387.67 228.26,388.46 228.39,389.24 228.52,390.03 228.64,390.82 228.77,391.61 228.89,392.41 229.01,393.20 229.13,393.99 229.25,394.78 229.37,395.57 229.49,396.36 229.60,397.15 229.72,397.94 229.83,398.74 229.94,399.53 230.05,400.32 230.16,401.11 230.27,401.91 230.38,402.70 230.48,403.49 230.58,404.28 230.68,405.08 230.78,405.87 230.88,406.67 230.98,407.46 231.07,408.25 231.17,409.05 231.26,409.84 231.35,410.64 231.44,411.43 231.53,412.23 231.62,413.02 231.71,413.82 231.80,414.61 231.88,415.41 231.97,416.20 232.06,417.00 232.14,417.79 232.23,418.59 232.31,419.39 232.39,420.18 232.48,420.98 232.56,421.77 232.64,422.57 232.72,423.36 232.81,424.16 232.89,424.96 232.97,425.75 233.05,426.55 233.13,427.34 233.21,428.14 233.29,428.94 233.37,429.73 233.45,430.53 233.54,431.32 233.62,432.12 233.70,432.91 233.79,433.71 233.87,434.50 233.96,435.30 234.05,436.09 234.14,436.89 234.23,437.69 234.31,438.48 234.40,439.28 234.49,440.07 234.57,440.87 234.66,441.66 234.74,442.46 234.82,443.25 234.90,444.05 234.98,444.85 235.06,445.64 235.13,446.44 235.21,447.23 235.28,448.03 235.36,448.83 235.43,449.62 235.51,450.42 235.58,451.22 235.66,452.01 235.73,452.81 235.81,453.61 235.88,454.40 235.96,455.20 236.03,456.00 236.11,456.79 236.18,457.59 236.26,458.38 236.30,458.86 236.33,459.18 236.40,459.98 236.47,460.78 236.53,461.57 236.60,462.37 236.67,463.17 236.73,463.96 236.80,464.76 236.87,465.56 236.94,466.36 237.00,467.15 237.07,467.95 237.14,468.75 237.20,469.54 237.27,470.34 237.34,471.14 237.41,471.94 237.47,472.73 237.54,473.53 237.61,474.33 237.67,475.13 237.74,475.92 237.81,476.72 237.88,477.52 237.94,478.31 238.01,479.11 238.08,479.91 238.14,480.71 238.21,481.50 238.28,482.30 238.34,483.10 238.41,483.89 238.48,484.69 238.55,485.49 238.61,486.29 238.68,487.08 238.75,487.88 238.81,488.68 238.88,489.47 238.95,490.27 239.02,491.07 239.08,491.87 239.15,492.66 239.22,493.46 239.28,494.26 239.35,495.05 239.42,495.85 239.49,496.65 239.55,497.45 239.62,498.24 239.69,499.04 239.75,499.84 239.82,500.63 239.89,501.43 239.96,502.23 240.02,503.03 240.09,503.82 240.16,504.62 240.20,505.15 240.23,505.42 240.32,506.21 240.40,507.01 240.49,507.80 240.58,508.60 240.66,509.39 240.75,510.19 240.84,510.98 240.92,511.78 241.01,512.58 241.10,513.37 241.18,514.17 241.27,514.96 241.36,515.76 241.44,516.55 241.53,517.35 241.61,518.14 241.70,518.94 241.79,519.73 241.87,520.53 241.96,521.32 242.05,522.12 242.13,522.91 242.22,523.71 242.31,524.50 242.39,525.30 242.48,526.10 242.57,526.89 242.65,527.69 242.74,528.48 242.83,529.28 242.91,530.07 243.00,530.87 243.08,531.66 243.17,532.46 243.26,533.25 243.34,534.05 243.43,534.84 243.52,535.64 243.60,536.43 243.69,537.23 243.78,538.03 243.86,538.82 243.95,539.62 244.04,540.41 244.10,541.00 244.26,540.87 244.89,540.37 245.52,539.88 246.15,539.38 246.78,538.89 247.40,538.39 248.00,537.92 248.00,537.88 248.07,537.08 248.15,536.29 248.22,535.49 248.29,534.69 248.37,533.90 248.44,533.10 248.51,532.30 248.58,531.51 248.66,530.71 248.73,529.91 248.80,529.12 248.88,528.32 248.95,527.52 249.02,526.73 249.09,525.93 249.17,525.13 249.24,524.34 249.31,523.54 249.39,522.74 249.46,521.95 249.53,521.15 249.60,520.35 249.68,519.56 249.75,518.76 249.82,517.96 249.90,517.17 249.97,516.37 250.04,515.57 250.11,514.78 250.19,513.98 250.26,513.18 250.33,512.39 250.41,511.59 250.48,510.79 250.55,510.00 250.62,509.20 250.70,508.40 250.77,507.61 250.84,506.81 250.92,506.01 250.99,505.22 251.06,504.42 251.13,503.62 251.21,502.83 251.28,502.03 251.35,501.23 251.42,500.44 251.50,499.64 251.57,498.84 251.64,498.05 251.72,497.25 251.79,496.45 251.86,495.66 251.90,495.29 251.93,494.86 251.99,494.06 252.06,493.26 252.12,492.47 252.19,491.67 252.25,490.87 252.31,490.07 252.38,489.28 252.44,488.48 252.51,487.68 252.57,486.88 252.63,486.09 252.70,485.29 252.76,484.49 252.83,483.70 252.89,482.90 252.96,482.10 253.03,481.30 253.10,480.51 253.17,479.71 253.25,478.91 253.32,478.12 253.39,477.32 253.46,476.52 253.54,475.73 253.62,474.93 253.70,474.14 253.79,473.34 253.88,472.55 253.97,471.75 254.07,470.96 254.17,470.17 254.28,469.37 254.39,468.58 254.49,467.79 254.61,467.00 254.72,466.20 254.83,465.41 254.94,464.62 255.05,463.83 255.16,463.03 255.27,462.24 255.38,461.45 255.49,460.66 255.60,459.86 255.71,459.07 255.82,458.28 255.92,457.49 256.03,456.69 256.13,455.90 256.24,455.11 256.34,454.31 256.44,453.52 256.54,452.73 256.64,451.93 256.74,451.14 256.84,450.35 256.94,449.55 257.03,448.76 257.13,447.96 257.22,447.17 257.32,446.37 257.41,445.58 257.50,444.78 257.58,443.99 257.67,443.19 257.76,442.40 257.84,441.60 257.92,440.81 258.00,440.01 258.08,439.21 258.16,438.42 258.24,437.62 258.31,436.83 258.39,436.03 258.47,435.23 258.54,434.44 258.61,433.64 258.69,432.84 258.76,432.05 258.83,431.25 258.91,430.45 258.98,429.66 259.05,428.86 259.12,428.06 259.19,427.27 259.26,426.47 259.33,425.67 259.40,424.88 259.47,424.08 259.53,423.28 259.60,422.48 259.67,421.69 259.73,420.89 259.80,420.09 259.87,419.30 259.93,418.50 260.00,417.70 260.06,416.90 260.13,416.11 260.19,415.31 260.26,414.51 260.33,413.71 260.40,412.92 260.47,412.12 260.53,411.32 260.60,410.53 260.68,409.73 260.75,408.93 260.82,408.14 260.89,407.34 260.97,406.54 261.04,405.75 261.12,404.95 261.19,404.15 261.27,403.36 261.35,402.56 261.42,401.76 261.50,400.97 261.58,400.17 261.66,399.38 261.75,398.58 261.83,397.79 261.91,396.99 262.00,396.19 262.09,395.40 262.18,394.60 262.27,393.81 262.37,393.02 262.47,392.22 262.57,391.43 262.67,390.64 262.79,389.84 262.90,389.05 263.02,388.26 263.15,387.47 263.28,386.69 263.42,385.90 263.57,385.11 263.73,384.33 263.89,383.55 264.06,382.76 264.23,381.98 264.41,381.21 264.60,380.43 264.79,379.65 264.98,378.88 265.19,378.10 265.39,377.33 265.60,376.56 265.81,375.79 266.03,375.02 266.24,374.25 266.47,373.48 266.69,372.71 266.92,371.94 267.14,371.18 267.37,370.41 267.61,369.64 267.84,368.88 268.08,368.12 268.32,367.35 268.57,366.59 268.81,365.83 269.06,365.07 269.32,364.31 269.58,363.56 269.84,362.80 270.10,362.05 270.37,361.29 270.65,360.54 270.93,359.79 271.21,359.05 271.50,358.30 271.80,357.56 272.10,356.82 272.41,356.08 272.72,355.34 273.04,354.61 273.37,353.88 273.71,353.16 274.05,352.43 274.39,351.71 274.74,350.99 275.10,350.28 275.47,349.57 275.83,348.86 276.21,348.15 276.58,347.44 276.97,346.74 277.35,346.04 277.74,345.34 278.14,344.65 278.53,343.95 278.94,343.26 279.35,342.58 279.76,341.89 280.18,341.21 280.61,340.54 281.05,339.88 281.50,339.22 281.97,338.57 282.45,337.93 282.94,337.31 283.45,336.70 283.97,336.10 284.51,335.52 285.07,334.96 285.65,334.41 286.24,333.87 286.84,333.35 287.45,332.85 288.08,332.36 288.72,331.88 289.37,331.42 290.03,330.97 290.70,330.53 291.37,330.11 292.05,329.69 292.74,329.28 293.43,328.88 294.13,328.49 294.83,328.10 295.53,327.72 296.24,327.35 296.95,326.99 297.67,326.64 298.39,326.30 299.12,325.97 299.85,325.64 300.58,325.33 301.32,325.02 302.06,324.72 302.80,324.42 303.55,324.14 304.30,323.86 305.05,323.60 305.81,323.34 306.57,323.09 307.33,322.84 308.09,322.61 308.86,322.37 309.63,322.15 310.40,321.93 311.17,321.72 311.94,321.51 312.71,321.31 313.49,321.12 314.27,320.93 315.04,320.74 315.82,320.56 316.60,320.39 317.38,320.22 318.17,320.06 318.95,319.90 319.74,319.75 320.52,319.60 321.31,319.46 322.10,319.33 322.89,319.20 323.68,319.07 324.47,318.95 325.26,318.83 326.05,318.72 326.84,318.61 327.63,318.50 328.43,318.39 329.22,318.28 330.01,318.18 330.81,318.08 331.60,317.98 332.40,317.88 333.19,317.79 333.98,317.70 334.78,317.61 335.57,317.52 336.37,317.44 337.17,317.36 337.96,317.28 338.76,317.20 339.55,317.13 340.35,317.06 341.15,316.99 341.95,316.92 342.74,316.86 343.54,316.80 344.34,316.74 345.14,316.69 345.93,316.64 346.73,316.59 347.53,316.54 348.33,316.49 349.13,316.45 349.93,316.41 350.73,316.37 351.53,316.33 352.33,316.29 353.12,316.25 353.92,316.21 354.72,316.18 355.52,316.14 356.32,316.10 357.12,316.07 357.92,316.03 358.72,316.00 359.52,315.96 360.32,315.93 361.12,315.89 361.92,315.86 362.71,315.82 363.51,315.79 364.31,315.76 365.11,315.73 365.91,315.70 366.71,315.67 367.51,315.63 368.31,315.61 369.11,315.58 369.91,315.55 370.71,315.52 371.51,315.49 372.31,315.47 373.11,315.44 373.91,315.42 374.71,315.39 375.51,315.37 376.31,315.35 377.11,315.32 377.91,315.30 378.71,315.28 379.50,315.26 380.30,315.24 381.10,315.21 381.90,315.19 382.70,315.17 383.50,315.15 384.30,315.13 385.10,315.11 385.90,315.09 386.70,315.07 387.50,315.05 388.30,315.03 389.10,315.01 389.90,314.99 390.70,314.97 391.50,314.95 392.30,314.93 393.10,314.91 393.90,314.89 394.70,314.87 395.50,314.85 396.30,314.83 397.10,314.81 397.90,314.79 398.70,314.77 399.50,314.76 400.30,314.74 401.10,314.72 401.90,314.70 402.70,314.69 403.50,314.67 404.30,314.65 405.10,314.63 405.90,314.62 406.70,314.60 407.50,314.58 408.30,314.57 409.10,314.55 409.90,314.54 410.70,314.52 411.50,314.51 412.30,314.49 413.10,314.47 413.90,314.46 414.70,314.44 415.50,314.43 416.30,314.41 417.09,314.40 417.89,314.38 418.69,314.37 419.49,314.35 420.29,314.34 421.09,314.32 421.89,314.31 422.69,314.29 423.49,314.28 424.29,314.27 425.09,314.25 425.89,314.24 426.69,314.23 427.49,314.21 428.29,314.20 429.09,314.19 429.89,314.18 430.69,314.16 431.49,314.15 432.29,314.14 433.09,314.13 433.89,314.12 434.69,314.11 435.49,314.10 436.29,314.09 437.09,314.08 437.89,314.07 438.69,314.07 439.49,314.06 440.29,314.05 441.09,314.04 441.89,314.04 442.69,314.03 443.49,314.02 444.29,314.02 445.09,314.01 445.89,314.00 446.69,314.00 447.49,313.99 448.29,313.99 449.09,313.98 449.89,313.98 450.69,313.97 451.49,313.97 452.29,313.96 453.09,313.96 453.89,313.95 454.69,313.95 455.49,313.94 456.29,313.94 457.09,313.93 457.89,313.93 458.69,313.93 459.49,313.92 460.29,313.92 461.09,313.92 461.89,313.91 462.69,313.91 463.49,313.91 464.29,313.90 465.09,313.90 465.89,313.90 466.69,313.90 467.49,313.89 468.29,313.89 469.09,313.89 469.89,313.88 470.69,313.88 471.49,313.88 472.29,313.88 473.09,313.88 473.89,313.87 474.69,313.87 475.49,313.87 476.29,313.87 477.09,313.87 477.89,313.86 478.69,313.86 479.49,313.86 480.29,313.86 481.09,313.86 481.89,313.85 482.69,313.85 483.49,313.85 484.29,313.85 485.09,313.85 485.89,313.85 486.69,313.84 487.49,313.84 488.29,313.84 489.09,313.84 489.89,313.84 490.69,313.84 491.49,313.84 492.29,313.84 493.09,313.83 493.89,313.83 494.69,313.83 495.49,313.83 496.29,313.83 497.09,313.83 497.89,313.83 498.69,313.83 499.49,313.83 500.29,313.83 501.09,313.83 501.89,313.83 502.69,313.83 503.49,313.83 504.29,313.83 505.09,313.83 505.89,313.83 506.69,313.83 507.49,313.83 508.29,313.83 509.09,313.83 509.89,313.83 510.69,313.83 511.49,313.83 512.29,313.83 513.09,313.83 513.89,313.83 514.69,313.84 515.49,313.84 516.29,313.84 517.09,313.84 517.89,313.84 518.69,313.84 519.49,313.84 520.29,313.84 521.09,313.84 521.89,313.84 522.69,313.84 523.49,313.85 524.29,313.85 525.09,313.85 525.89,313.85 526.69,313.85 527.49,313.86 528.29,313.86 529.09,313.86 529.89,313.87 530.69,313.87 531.49,313.88 532.29,313.88 533.09,313.89 533.89,313.90 534.69,313.91 535.49,313.92 536.29,313.92 537.09,313.93 537.89,313.94 538.69,313.95 539.49,313.97 540.29,313.98 541.09,313.99 541.89,314.00 542.69,314.01 543.49,314.02 544.29,314.04 545.09,314.05 545.89,314.06 546.69,314.07 547.49,314.08 548.29,314.10 549.09,314.11 549.89,314.12 550.69,314.14 551.49,314.15 552.29,314.16 553.09,314.18 553.89,314.19 554.69,314.21 555.49,314.23 556.29,314.25 557.09,314.27 557.89,314.29 558.69,314.32 559.49,314.35 560.29,314.38 561.09,314.41 561.88,314.45 562.68,314.48 563.48,314.53 564.28,314.57 565.08,314.62 565.88,314.68 566.67,314.73 567.47,314.79 568.27,314.86 569.07,314.93 569.86,315.00 570.66,315.08 571.45,315.16 572.25,315.24 573.05,315.33 573.84,315.42 574.63,315.51 575.43,315.61 576.22,315.71 577.02,315.80 577.81,315.90 578.60,316.00 579.40,316.10 580.19,316.20 580.99,316.30 581.78,316.40 582.57,316.50 583.37,316.60 584.16,316.70 584.95,316.80 585.75,316.90 586.54,317.00 587.34,317.11 588.13,317.21 588.92,317.31 589.71,317.42 590.51,317.53 591.30,317.63 592.09,317.75 592.88,317.87 593.67,317.99 594.45,318.13 595.23,318.28 596.01,318.45 596.77,318.65 597.53,318.87 598.28,319.12 599.01,319.40 599.73,319.72 600.43,320.07 601.11,320.45 601.77,320.87 602.41,321.32 603.03,321.80 603.63,322.32 604.20,322.86 604.74,323.42 605.26,324.01 605.76,324.63 606.23,325.26 606.67,325.91 607.10,326.58 607.50,327.27 607.88,327.96 608.24,328.67 608.58,329.39 608.90,330.12 609.21,330.85 609.49,331.60 609.77,332.34 610.02,333.10 610.27,333.86 610.50,334.62 610.73,335.39 610.94,336.16 611.15,336.93 611.35,337.70 611.55,338.48 611.74,339.26 611.92,340.03 612.10,340.81 612.28,341.59 612.46,342.37 612.63,343.15 612.80,343.94 612.97,344.72 613.14,345.50 613.30,346.28 613.47,347.07 613.63,347.85 613.79,348.63 613.95,349.42 614.12,350.20 614.28,350.98 614.44,351.77 614.60,352.55 614.76,353.33 614.92,354.12 615.08,354.90 615.24,355.68 615.40,356.47 615.56,357.25 615.72,358.04 615.87,358.82 616.02,359.61 616.17,360.39 616.31,361.18 616.44,361.97 616.57,362.76 616.68,363.55 616.79,364.34 616.89,365.13 616.99,365.92 617.07,366.72 617.16,367.51 617.23,368.31 617.31,369.11 617.38,369.90 617.45,370.70 617.52,371.50 617.59,372.29 617.66,373.09 617.72,373.89 617.79,374.69 617.85,375.48 617.92,376.28 617.98,377.08 618.04,377.88 618.11,378.67 618.17,379.47 618.23,380.27 618.29,381.07 618.35,381.86 618.41,382.66 618.47,383.46 618.53,384.26 618.59,385.05 618.65,385.85 618.71,386.65 618.77,387.45 618.83,388.25 618.89,389.04 618.95,389.84 619.01,390.64 619.07,391.44 619.12,392.23 619.18,393.03 619.24,393.83 619.30,394.63 619.36,395.43 619.41,396.22 619.47,397.02 619.53,397.82 619.59,398.62 619.65,399.42 619.70,400.21 619.76,401.01 619.82,401.81 619.88,402.61 619.90,402.96 619.93,403.41 619.98,404.20 620.03,405.00 620.08,405.80 620.13,406.60 620.17,407.40 620.22,408.20 620.27,409.00 620.32,409.79 620.37,410.59 620.42,411.39 620.47,412.19 620.51,412.99 620.56,413.79 620.61,414.58 620.66,415.38 620.71,416.18 620.76,416.98 620.81,417.78 620.85,418.58 620.90,419.38 620.95,420.17 621.00,420.97 621.05,421.77 621.10,422.57 621.15,423.37 621.19,424.17 621.24,424.97 621.29,425.76 621.34,426.56 621.39,427.36 621.44,428.16 621.49,428.96 621.53,429.76 621.58,430.56 621.63,431.35 621.68,432.15 621.73,432.95 621.78,433.75 621.83,434.55 621.87,435.35 621.92,436.14 621.97,436.94 622.02,437.74 622.07,438.54 622.12,439.34 622.17,440.14 622.21,440.94 622.26,441.73 622.31,442.53 622.36,443.33 622.41,444.13 622.46,444.93 622.51,445.73 622.55,446.53 622.60,447.32 622.65,448.12 622.70,448.92 622.75,449.72 622.80,450.52 622.85,451.32 622.89,452.12 622.94,452.91 622.99,453.71 623.04,454.51 623.09,455.31 623.14,456.11 623.19,456.91 623.23,457.71 623.28,458.50 623.33,459.30 623.38,460.10 623.43,460.90 623.48,461.70 623.53,462.50 623.57,463.29 623.62,464.09 623.67,464.89 623.72,465.69 623.77,466.49 623.80,467.05 623.82,467.29 623.87,468.09 623.92,468.88 623.97,469.68 624.02,470.48 624.07,471.28 624.12,472.08 624.17,472.88 624.22,473.67 624.27,474.47 624.32,475.27 624.37,476.07 624.42,476.87 624.47,477.67 624.51,478.47 624.56,479.26 624.61,480.06 624.66,480.86 624.71,481.66 624.76,482.46 624.81,483.26 624.86,484.05 624.91,484.85 624.96,485.65 625.01,486.45 625.06,487.25 625.11,488.05 625.16,488.85 625.21,489.64 625.26,490.44 625.31,491.24 625.36,492.04 625.41,492.84 625.46,493.64 625.51,494.43 625.56,495.23 625.61,496.03 625.66,496.83 625.71,497.63 625.76,498.43 625.81,499.23 625.86,500.02 625.91,500.82 625.96,501.62 626.01,502.42 626.06,503.22 626.11,504.02 626.16,504.81 626.21,505.61 626.26,506.41 626.31,507.21 626.36,508.01 626.41,508.81 626.46,509.61 626.51,510.40 626.56,511.20 626.61,512.00 626.66,512.80 626.71,513.60 626.76,514.40 626.81,515.19 626.86,515.99 626.91,516.79 626.96,517.59 627.01,518.39 627.06,519.19 627.11,519.98 627.16,520.78 627.21,521.58 627.26,522.38 627.31,523.18 627.36,523.98 627.41,524.78 627.46,525.57 627.50,526.37 627.55,527.17 627.60,527.97 627.65,528.77 627.70,529.50 627.70,529.43 627.75,528.63 627.79,527.84 627.84,527.04 627.88,526.24 627.93,525.44 627.97,524.64 628.02,523.84 628.06,523.04 628.11,522.24 628.15,521.45 628.20,520.65 628.24,519.85 628.29,519.05 628.33,518.25 628.38,517.45 628.42,516.65 628.47,515.85 628.51,515.06 628.56,514.26 628.60,513.46 628.65,512.66 628.69,511.86 628.74,511.06 628.78,510.26 628.83,509.46 628.87,508.67 628.92,507.87 628.96,507.07 629.01,506.27 629.05,505.47 629.10,504.67 629.14,503.87 629.19,503.07 629.23,502.28 629.28,501.48 629.32,500.68 629.37,499.88 629.41,499.08 629.46,498.28 629.50,497.48 629.54,496.68 629.59,495.89 629.63,495.09 629.68,494.29 629.72,493.49 629.77,492.69 629.81,491.89 629.86,491.09 629.90,490.29 629.95,489.50 629.99,488.70 630.04,487.90 630.08,487.10 630.13,486.30 630.17,485.50 630.22,484.70 630.26,483.90 630.31,483.11 630.35,482.31 630.40,481.51 630.44,480.71 630.49,479.91 630.53,479.11 630.58,478.31 630.62,477.51 630.67,476.72 630.71,475.92 630.76,475.12 630.80,474.32 630.85,473.52 630.89,472.72 630.94,471.92 630.98,471.13 631.03,470.33 631.07,469.53 631.12,468.73 631.16,467.93 631.21,467.13 631.25,466.33 631.30,465.53 631.34,464.74 631.39,463.94 631.43,463.14 631.48,462.34 631.52,461.54 631.57,460.74 631.60,460.16 631.61,459.94 631.66,459.14 631.71,458.35 631.76,457.55 631.81,456.75 631.86,455.95 631.92,455.15 631.97,454.35 632.02,453.56 632.07,452.76 632.12,451.96 632.17,451.16 632.22,450.36 632.27,449.56 632.32,448.77 632.37,447.97 632.42,447.17 632.47,446.37 632.52,445.57 632.57,444.77 632.62,443.97 632.67,443.18 632.72,442.38 632.77,441.58 632.82,440.78 632.87,439.98 632.93,439.18 632.98,438.39 633.03,437.59 633.08,436.79 633.13,435.99 633.18,435.19 633.23,434.39 633.28,433.60 633.33,432.80 633.38,432.00 633.43,431.20 633.48,430.40 633.53,429.60 633.58,428.81 633.63,428.01 633.68,427.21 633.73,426.41 633.78,425.61 633.83,424.81 633.89,424.01 633.94,423.22 633.99,422.42 634.04,421.62 634.09,420.82 634.14,420.02 634.19,419.22 634.24,418.43 634.29,417.63 634.34,416.83 634.39,416.03 634.44,415.23 634.49,414.43 634.54,413.64 634.59,412.84 634.64,412.04 634.69,411.24 634.74,410.44 634.79,409.64 634.84,408.84 634.90,408.05 634.95,407.25 635.00,406.45 635.05,405.65 635.10,404.85 635.15,404.05 635.20,403.26 635.25,402.46 635.30,401.66 635.35,400.86 635.40,400.06 635.45,399.26 635.50,398.55 635.50,398.47 635.56,397.67 635.62,396.87 635.68,396.07 635.74,395.27 635.80,394.48 635.86,393.68 635.92,392.88 635.99,392.08 636.05,391.29 636.11,390.49 636.17,389.69 636.23,388.89 636.29,388.10 636.35,387.30 636.41,386.50 636.47,385.70 636.53,384.90 636.59,384.11 636.65,383.31 636.71,382.51 636.78,381.71 636.84,380.92 636.91,380.12 636.98,379.32 637.05,378.53 637.12,377.73 637.19,376.93 637.26,376.14 637.33,375.34 637.40,374.54 637.48,373.75 637.55,372.95 637.63,372.15 637.71,371.36 637.80,370.56 637.88,369.77 637.97,368.97 638.06,368.18 638.16,367.38 638.27,366.59 638.37,365.80 638.49,365.01 638.61,364.22 638.75,363.43 638.89,362.65 639.04,361.86 639.21,361.08 639.38,360.30 639.56,359.53 639.74,358.75 639.93,357.97 640.12,357.19 640.30,356.42 640.47,355.64 640.64,354.86 640.81,354.07 640.96,353.29 641.11,352.51 641.26,351.72 641.40,350.93 641.54,350.15 641.67,349.36 641.81,348.57 641.95,347.78 642.09,346.99 642.24,346.21 642.39,345.42 642.54,344.64 642.70,343.85 642.86,343.07 643.03,342.29 643.20,341.51 643.38,340.73 643.57,339.95 643.77,339.18 643.98,338.41 644.20,337.64 644.44,336.88 644.69,336.13 644.95,335.37 645.24,334.63 645.53,333.89 645.85,333.16 646.19,332.44 646.54,331.73 646.91,331.02 647.30,330.33 647.70,329.65 648.13,328.98 648.57,328.32 649.04,327.68 649.53,327.05 650.04,326.45 650.57,325.87 651.12,325.31 651.70,324.78 652.30,324.27 652.93,323.79 653.57,323.34 654.23,322.90 654.91,322.49 655.60,322.09 656.29,321.71 657.00,321.33 657.71,320.97 658.42,320.62 659.14,320.28 659.87,319.96 660.60,319.65 661.34,319.36 662.09,319.10 662.85,318.86 663.61,318.64 664.38,318.46 665.15,318.29 665.93,318.15 666.72,318.04 667.51,317.94 668.30,317.85 669.10,317.78 669.89,317.72 670.69,317.66 671.49,317.60 672.29,317.55 673.08,317.49 673.88,317.44 674.68,317.39 675.48,317.33 676.28,317.28 677.07,317.22 677.87,317.17 678.67,317.11 679.47,317.06 680.27,317.01 681.07,316.95 681.86,316.90 682.66,316.85 683.46,316.80 684.26,316.75 685.06,316.70 685.86,316.66 686.65,316.61 687.45,316.57 688.25,316.53 689.05,316.49 689.85,316.45 690.65,316.42 691.45,316.38 692.25,316.35 693.05,316.32 693.85,316.29 694.65,316.27 695.45,316.24 696.25,316.22 697.05,316.19 697.85,316.17 698.64,316.14 699.44,316.12 700.24,316.09 701.04,316.07 701.84,316.04 702.64,316.02 703.44,316.00 704.24,315.97 705.04,315.95 705.84,315.93 706.64,315.91 707.44,315.89 708.24,315.86 709.04,315.84 709.84,315.82 710.64,315.80 711.44,315.78 712.24,315.77 713.04,315.75 713.84,315.73 714.64,315.71 715.44,315.69 716.24,315.68 717.04,315.66 717.84,315.64 718.64,315.62 719.44,315.61 720.24,315.59 721.04,315.57 721.84,315.56 722.64,315.54 723.44,315.53 724.24,315.51 725.04,315.49 725.84,315.48 726.64,315.46 727.44,315.45 728.24,315.43 729.04,315.42 729.84,315.41 730.64,315.39 731.44,315.38 732.24,315.37 733.04,315.35 733.84,315.34 734.64,315.33 735.44,315.32 736.24,315.31 737.03,315.30 737.83,315.29 738.63,315.28 739.43,315.27 740.23,315.26 741.03,315.25 741.83,315.25 742.63,315.24 743.43,315.23 744.23,315.22 745.03,315.21 745.83,315.20 746.63,315.20 747.43,315.19 748.23,315.18 749.03,315.18 749.83,315.17 750.63,315.16 751.43,315.15 752.23,315.15 753.03,315.14 753.83,315.14 754.63,315.13 755.43,315.12 756.23,315.12 757.03,315.11 757.83,315.11 758.63,315.10 759.43,315.09 760.23,315.09 761.03,315.08 761.83,315.08 762.63,315.07 763.43,315.07 764.23,315.07 765.03,315.06 765.83,315.06 766.63,315.05 767.43,315.05 768.23,315.04 769.03,315.04 769.83,315.04 770.63,315.03 771.43,315.03 772.23,315.03 773.03,315.02 773.83,315.02 774.63,315.02 775.43,315.01 776.23,315.01 777.03,315.01 777.83,315.01 778.63,315.00 779.43,315.00 780.23,315.00 781.03,315.00 781.83,315.00 782.63,314.99 783.43,314.99 784.23,314.99 785.03,314.99 785.83,314.99 786.63,314.99 787.43,314.98 788.23,314.98 789.03,314.98 789.83,314.98 790.63,314.98 791.43,314.98 792.23,314.98 793.03,314.97 793.83,314.97 794.63,314.97 795.43,314.97 796.23,314.97 797.03,314.97 797.83,314.97 798.63,314.97 799.43,314.97 800.23,314.97 801.03,314.97 801.83,314.97 802.63,314.97 803.43,314.97 804.23,314.97 805.03,314.97 805.83,314.97 806.63,314.97 807.43,314.97 808.23,314.97 809.03,314.97 809.83,314.97 810.63,314.97 811.43,314.97 812.23,314.97 813.02,314.98 813.81,314.98 814.59,314.98 815.40,314.98 816.22,314.98 817.03,314.98 817.83,314.98 818.63,314.99 819.43,314.99 820.23,314.99 820.33,314.99" fill="none" stroke="#008b8b" stroke-width="3.9" stroke-linejoin="miter" stroke-miterlimit="4"/>
<polyline points="54.20,511.00 55.00,511.00 55.75,511.00 56.50,511.00 57.25,511.00 58.00,510.99 58.75,510.99 59.50,510.99 60.25,510.99 61.00,510.99 61.75,510.98 62.50,510.98 63.25,510.98 64.00,510.98 64.75,510.97 65.50,510.97 66.25,510.97 67.00,510.96 67.75,510.96 68.50,510.96 69.25,510.95 70.00,510.95 70.75,510.94 71.50,510.94 72.25,510.93 73.00,510.93 73.75,510.92 74.50,510.92 75.25,510.91 76.00,510.91 76.75,510.90 77.50,510.90 78.25,510.89 79.00,510.89 79.75,510.88 80.50,510.88 81.25,510.87 82.00,510.86 82.75,510.86 83.50,510.85 84.25,510.84 85.00,510.84 85.75,510.83 86.50,510.83 87.25,510.82 88.00,510.81 88.75,510.81 89.50,510.80 90.25,510.79 91.00,510.79 91.75,510.78 92.50,510.77 93.25,510.76 94.00,510.76 94.75,510.75 95.50,510.74 96.25,510.74 97.00,510.73 97.75,510.72 98.50,510.71 99.25,510.71 100.00,510.70 100.75,510.69 101.50,510.69 102.25,510.68 103.00,510.67 103.75,510.66 104.50,510.65 105.25,510.64 106.00,510.64 106.75,510.63 107.50,510.62 108.25,510.61 109.00,510.60 109.75,510.59 110.50,510.58 111.25,510.57 112.00,510.56 112.75,510.55 113.50,510.53 114.25,510.52 115.00,510.51 115.75,510.50 116.50,510.49 117.25,510.48 118.00,510.46 118.75,510.45 119.50,510.44 120.25,510.42 121.00,510.41 121.75,510.40 122.50,510.38 123.25,510.37 124.00,510.36 124.75,510.34 125.50,510.33 126.25,510.31 127.00,510.30 127.75,510.28 128.50,510.27 129.25,510.25 130.00,510.23 130.75,510.22 131.50,510.20 132.25,510.19 133.00,510.17 133.75,510.15 134.50,510.13 135.25,510.12 136.00,510.10 136.75,510.08 137.50,510.06 138.25,510.04 139.00,510.03 139.75,510.01 140.50,509.99 141.25,509.97 142.00,509.95 142.75,509.93 143.50,509.91 144.25,509.88 145.00,509.86 145.75,509.84 146.50,509.81 147.25,509.79 148.00,509.77 148.75,509.74 149.50,509.71 150.25,509.69 151.00,509.66 151.75,509.63 152.50,509.60 153.25,509.57 154.00,509.54 154.75,509.51 155.50,509.48 156.25,509.45 157.00,509.41 157.75,509.38 158.50,509.35 159.25,509.31 160.00,509.27 160.75,509.24 161.50,509.20 162.25,509.16 163.00,509.12 163.75,509.08 164.50,509.04 165.25,508.99 166.00,508.95 166.75,508.90 167.50,508.86 168.25,508.81 169.00,508.76 169.75,508.72 170.50,508.67 171.25,508.61 172.00,508.55 172.75,508.49 173.50,508.42 174.25,508.35 175.00,508.27 175.75,508.19 176.50,508.11 177.25,508.03 178.00,507.94 178.75,507.85 179.50,507.75 180.25,507.66 181.00,507.56 181.75,507.46 182.50,507.36 183.25,507.26 184.00,507.15 184.75,507.05 185.50,506.94 186.25,506.84 187.00,506.73 187.75,506.62 188.50,506.51 189.25,506.40 190.00,506.29 190.75,506.17 191.50,506.04 192.25,505.91 193.00,505.78 193.75,505.63 194.50,505.48 195.25,505.32 196.00,505.15 196.75,504.97 197.50,504.78 198.25,504.58 199.00,504.37 199.75,504.15 200.50,503.92 201.25,503.68 202.00,503.43 202.75,503.15 203.50,502.86 204.25,502.55 205.00,502.22 205.75,501.89 206.50,501.53 207.25,501.17 208.00,500.80 208.75,500.40 209.50,499.99 210.25,499.56 211.00,499.11 211.75,498.64 212.50,498.16 213.25,497.67 214.00,497.16 214.75,496.64 215.50,496.11 216.25,495.56 217.00,494.97 217.75,494.34 218.50,493.67 219.25,492.95 220.00,492.13 220.75,491.23 221.50,490.26 222.25,489.25 223.00,488.22 223.75,487.17 224.50,486.09 225.25,484.96 226.00,483.78 226.75,482.56 227.50,481.28 228.25,479.92 229.00,478.49 229.75,477.01 230.50,475.50 231.25,473.98 232.00,472.41 232.75,470.79 233.50,469.06 234.25,467.21 235.00,465.25 235.75,463.21 236.50,461.13 237.25,458.97 238.00,456.63 238.75,453.85 239.50,450.86 240.25,448.45 241.00,446.36 241.75,444.55 242.50,443.13 243.25,441.88 244.00,440.69 244.75,439.73 245.50,439.13 246.25,439.07 247.00,440.00 247.75,441.70 248.50,443.79 249.25,445.96 250.00,448.87 250.75,451.83 251.50,454.26 252.25,456.51 253.00,458.75 253.75,461.07 254.50,463.36 255.25,465.52 256.00,467.58 256.75,469.56 257.50,471.42 258.25,473.17 259.00,474.83 259.75,476.41 260.50,477.91 261.25,479.33 262.00,480.71 262.75,482.02 263.50,483.26 264.25,484.43 265.00,485.53 265.75,486.57 266.50,487.57 267.25,488.53 268.00,489.48 268.75,490.41 269.50,491.33 270.25,492.23 271.00,493.10 271.75,493.93 272.50,494.71 273.25,495.43 274.00,496.12 274.75,496.79 275.50,497.43 276.25,498.03 277.00,498.58 277.75,499.09 278.50,499.55 279.25,499.96 280.00,500.35 280.75,500.71 281.50,501.05 282.25,501.37 283.00,501.68 283.75,501.99 284.50,502.30 285.25,502.61 286.00,502.92 286.75,503.22 287.50,503.51 288.25,503.80 289.00,504.07 289.75,504.32 290.50,504.56 291.25,504.77 292.00,504.97 292.75,505.15 293.50,505.32 294.25,505.49 295.00,505.65 295.75,505.80 296.50,505.95 297.25,506.09 298.00,506.24 298.75,506.38 299.50,506.53 300.25,506.67 301.00,506.81 301.75,506.94 302.50,507.06 303.25,507.17 304.00,507.27 304.75,507.35 305.50,507.42 306.25,507.50 307.00,507.57 307.75,507.64 308.50,507.70 309.25,507.77 310.00,507.83 310.75,507.89 311.50,507.95 312.25,508.01 313.00,508.06 313.75,508.12 314.50,508.17 315.25,508.22 316.00,508.27 316.75,508.32 317.50,508.36 318.25,508.41 319.00,508.45 319.75,508.49 320.50,508.54 321.25,508.58 322.00,508.62 322.75,508.66 323.50,508.69 324.25,508.73 325.00,508.77 325.75,508.80 326.50,508.84 327.25,508.88 328.00,508.91 328.75,508.94 329.50,508.98 330.25,509.01 331.00,509.04 331.75,509.08 332.50,509.11 333.25,509.14 334.00,509.17 334.75,509.20 335.50,509.24 336.25,509.27 337.00,509.30 337.75,509.33 338.50,509.35 339.25,509.38 340.00,509.41 340.75,509.44 341.50,509.47 342.25,509.49 343.00,509.52 343.75,509.55 344.50,509.57 345.25,509.60 346.00,509.62 346.75,509.65 347.50,509.67 348.25,509.69 349.00,509.72 349.75,509.74 350.50,509.76 351.25,509.78 352.00,509.80 352.75,509.82 353.50,509.84 354.25,509.86 355.00,509.88 355.75,509.90 356.50,509.92 357.25,509.94 358.00,509.96 358.75,509.97 359.50,509.99 360.25,510.01 361.00,510.02 361.75,510.04 362.50,510.05 363.25,510.07 364.00,510.08 364.75,510.10 365.50,510.11 366.25,510.13 367.00,510.14 367.75,510.15 368.50,510.17 369.25,510.18 370.00,510.20 370.75,510.21 371.50,510.22 372.25,510.24 373.00,510.25 373.75,510.26 374.50,510.27 375.25,510.29 376.00,510.30 376.75,510.31 377.50,510.32 378.25,510.33 379.00,510.35 379.75,510.36 380.50,510.37 381.25,510.38 382.00,510.39 382.75,510.40 383.50,510.41 384.25,510.42 385.00,510.43 385.75,510.44 386.50,510.45 387.25,510.46 388.00,510.47 388.75,510.48 389.50,510.49 390.25,510.50 391.00,510.51 391.75,510.52 392.50,510.53 393.25,510.53 394.00,510.54 394.75,510.55 395.50,510.56 396.25,510.57 397.00,510.57 397.75,510.58 398.50,510.59 399.25,510.59 400.00,510.60 400.75,510.61 401.50,510.61 402.25,510.62 403.00,510.63 403.75,510.63 404.50,510.64 405.25,510.65 406.00,510.65 406.75,510.66 407.50,510.67 408.25,510.67 409.00,510.68 409.75,510.68 410.50,510.69 411.25,510.70 412.00,510.70 412.75,510.71 413.50,510.72 414.25,510.72 415.00,510.73 415.75,510.73 416.50,510.74 417.25,510.75 418.00,510.75 418.75,510.76 419.50,510.76 420.25,510.77 421.00,510.78 421.75,510.78 422.50,510.79 423.25,510.79 424.00,510.80 424.75,510.80 425.50,510.81 426.25,510.81 427.00,510.82 427.75,510.82 428.50,510.83 429.25,510.83 430.00,510.84 430.75,510.84 431.50,510.84 432.25,510.85 433.00,510.85 433.75,510.86 434.50,510.86 435.25,510.86 436.00,510.87 436.75,510.87 437.50,510.87 438.25,510.88 439.00,510.88 439.75,510.88 440.50,510.88 441.25,510.89 442.00,510.89 442.75,510.89 443.50,510.89 444.25,510.89 445.00,510.90 445.75,510.90 446.50,510.90 447.25,510.90 448.00,510.90 448.75,510.90 449.50,510.90 450.25,510.90 451.00,510.90 451.75,510.90 452.50,510.90 453.25,510.90 454.00,510.90 454.75,510.90 455.50,510.90 456.25,510.90 457.00,510.90 457.75,510.90 458.50,510.90 459.25,510.90 460.00,510.90 460.75,510.90 461.50,510.90 462.25,510.90 463.00,510.90 463.75,510.90 464.50,510.90 465.25,510.90 466.00,510.90 466.75,510.90 467.50,510.90 468.25,510.90 469.00,510.90 469.75,510.90 470.50,510.90 471.25,510.90 472.00,510.90 472.75,510.90 473.50,510.90 474.25,510.90 475.00,510.90 475.75,510.90 476.50,510.90 477.25,510.90 478.00,510.90 478.75,510.90 479.50,510.90 480.25,510.90 481.00,510.90 481.75,510.90 482.50,510.90 483.25,510.90 484.00,510.90 484.75,510.90 485.50,510.90 486.25,510.90 487.00,510.90 487.75,510.90 488.50,510.90 489.25,510.90 490.00,510.90 490.75,510.90 491.50,510.90 492.25,510.90 493.00,510.90 493.75,510.90 494.50,510.90 495.25,510.90 496.00,510.90 496.75,510.90 497.50,510.90 498.25,510.90 499.00,510.90 499.75,510.90 500.50,510.90 501.25,510.90 502.00,510.90 502.75,510.90 503.50,510.90 504.25,510.90 505.00,510.89 505.75,510.89 506.50,510.89 507.25,510.89 508.00,510.89 508.75,510.88 509.50,510.88 510.25,510.88 511.00,510.88 511.75,510.87 512.50,510.87 513.25,510.87 514.00,510.86 514.75,510.86 515.50,510.85 516.25,510.85 517.00,510.85 517.75,510.84 518.50,510.84 519.25,510.83 520.00,510.83 520.75,510.82 521.50,510.82 522.25,510.81 523.00,510.81 523.75,510.81 524.50,510.80 525.25,510.80 526.00,510.79 526.75,510.79 527.50,510.78 528.25,510.78 529.00,510.77 529.75,510.77 530.50,510.76 531.25,510.76 532.00,510.75 532.75,510.75 533.50,510.74 534.25,510.74 535.00,510.73 535.75,510.73 536.50,510.72 537.25,510.72 538.00,510.71 538.75,510.71 539.50,510.70 540.25,510.70 541.00,510.69 541.75,510.69 542.50,510.69 543.25,510.68 544.00,510.68 544.75,510.68 545.50,510.67 546.25,510.67 547.00,510.67 547.75,510.66 548.50,510.66 549.25,510.66 550.00,510.65 550.75,510.65 551.50,510.65 552.25,510.64 553.00,510.64 553.75,510.64 554.50,510.63 555.25,510.63 556.00,510.62 556.75,510.62 557.50,510.62 558.25,510.61 559.00,510.61 559.75,510.60 560.50,510.60 561.25,510.59 562.00,510.59 562.75,510.58 563.50,510.57 564.25,510.57 565.00,510.56 565.75,510.55 566.50,510.54 567.25,510.53 568.00,510.52 568.75,510.52 569.50,510.51 570.25,510.49 571.00,510.47 571.75,510.45 572.50,510.41 573.25,510.38 574.00,510.33 574.75,510.29 575.50,510.25 576.25,510.21 577.00,510.17 577.75,510.13 578.50,510.09 579.25,510.05 580.00,510.01 580.75,509.97 581.50,509.92 582.25,509.87 583.00,509.82 583.75,509.75 584.50,509.69 585.25,509.61 586.00,509.53 586.75,509.44 587.50,509.34 588.25,509.25 589.00,509.15 589.75,509.05 590.50,508.95 591.25,508.84 592.00,508.74 592.75,508.63 593.50,508.52 594.25,508.40 595.00,508.27 595.75,508.13 596.50,507.98 597.25,507.82 598.00,507.64 598.75,507.44 599.50,507.22 600.25,506.98 601.00,506.72 601.75,506.45 602.50,506.16 603.25,505.85 604.00,505.52 604.75,505.16 605.50,504.77 606.25,504.34 607.00,503.87 607.75,503.36 608.50,502.81 609.25,502.22 610.00,501.58 610.75,500.84 611.50,500.01 612.25,499.09 613.00,498.06 613.75,496.92 614.50,495.59 615.25,494.00 616.00,492.16 616.75,490.06 617.50,487.51 618.25,484.25 619.00,479.48 619.75,473.46 620.50,466.54 621.25,458.45 622.00,448.21 622.75,438.75 623.50,426.98 624.25,414.90 625.00,406.00 625.75,399.86 626.50,395.38 627.25,394.72 628.00,400.29 628.75,406.78 629.50,413.95 630.25,421.50 631.00,428.84 631.75,438.13 632.50,447.89 633.25,460.40 634.00,468.18 634.75,472.38 635.50,476.89 636.25,481.20 637.00,485.06 637.75,487.78 638.50,489.67 639.25,491.18 640.00,492.47 640.75,493.64 641.50,494.72 642.25,495.71 643.00,496.61 643.75,497.45 644.50,498.22 645.25,498.94 646.00,499.62 646.75,500.26 647.50,500.86 648.25,501.43 649.00,501.96 649.75,502.45 650.50,502.90 651.25,503.31 652.00,503.70 652.75,504.06 653.50,504.39 654.25,504.71 655.00,505.01 655.75,505.29 656.50,505.56 657.25,505.82 658.00,506.07 658.75,506.32 659.50,506.55 660.25,506.77 661.00,506.99 661.75,507.18 662.50,507.37 663.25,507.53 664.00,507.68 664.75,507.81 665.50,507.94 666.25,508.05 667.00,508.17 667.75,508.27 668.50,508.37 669.25,508.46 670.00,508.55 670.75,508.64 671.50,508.73 672.25,508.81 673.00,508.90 673.75,508.98 674.50,509.05 675.25,509.12 676.00,509.19 676.75,509.24 677.50,509.29 678.25,509.34 679.00,509.38 679.75,509.41 680.50,509.45 681.25,509.48 682.00,509.51 682.75,509.54 683.50,509.57 684.25,509.59 685.00,509.62 685.75,509.65 686.50,509.68 687.25,509.71 688.00,509.73 688.75,509.76 689.50,509.79 690.25,509.81 691.00,509.84 691.75,509.86 692.50,509.89 693.25,509.91 694.00,509.94 694.75,509.96 695.50,509.98 696.25,510.00 697.00,510.02 697.75,510.04 698.50,510.06 699.25,510.08 700.00,510.10 700.75,510.12 701.50,510.13 702.25,510.15 703.00,510.17 703.75,510.18 704.50,510.20 705.25,510.21 706.00,510.23 706.75,510.24 707.50,510.26 708.25,510.27 709.00,510.29 709.75,510.30 710.50,510.32 711.25,510.33 712.00,510.34 712.75,510.36 713.50,510.37 714.25,510.38 715.00,510.40 715.75,510.41 716.50,510.42 717.25,510.43 718.00,510.44 718.75,510.46 719.50,510.47 720.25,510.48 721.00,510.49 721.75,510.50 722.50,510.51 723.25,510.52 724.00,510.53 724.75,510.54 725.50,510.55 726.25,510.56 727.00,510.57 727.75,510.58 728.50,510.58 729.25,510.59 730.00,510.60 730.75,510.61 731.50,510.62 732.25,510.62 733.00,510.63 733.75,510.64 734.50,510.65 735.25,510.65 736.00,510.66 736.75,510.67 737.50,510.68 738.25,510.68 739.00,510.69 739.75,510.70 740.50,510.71 741.25,510.71 742.00,510.72 742.75,510.73 743.50,510.73 744.25,510.74 745.00,510.75 745.75,510.75 746.50,510.76 747.25,510.76 748.00,510.77 748.75,510.78 749.50,510.78 750.25,510.79 751.00,510.79 751.75,510.80 752.50,510.81 753.25,510.81 754.00,510.82 754.75,510.82 755.50,510.83 756.25,510.83 757.00,510.84 757.75,510.84 758.50,510.85 759.25,510.85 760.00,510.86 760.75,510.86 761.50,510.86 762.25,510.87 763.00,510.87 763.75,510.88 764.50,510.88 765.25,510.88 766.00,510.89 766.75,510.89 767.50,510.89 768.25,510.89 769.00,510.90 769.75,510.90 770.50,510.90 771.25,510.90 772.00,510.91 772.75,510.91 773.50,510.91 774.25,510.91 775.00,510.92 775.75,510.92 776.50,510.92 777.25,510.92 778.00,510.92 778.75,510.93 779.50,510.93 780.25,510.93 781.00,510.93 781.75,510.93 782.50,510.94 783.25,510.94 784.00,510.94 784.75,510.94 785.50,510.94 786.25,510.95 787.00,510.95 787.75,510.95 788.50,510.95 789.25,510.95 790.00,510.96 790.75,510.96 791.50,510.96 792.25,510.96 793.00,510.96 793.75,510.96 794.50,510.97 795.25,510.97 796.00,510.97 796.75,510.97 797.50,510.97 798.25,510.97 799.00,510.98 799.75,510.98 800.50,510.98 801.25,510.98 802.00,510.98 802.75,510.98 803.50,510.98 804.25,510.98 805.00,510.99 805.75,510.99 806.50,510.99 807.25,510.99 808.00,510.99 808.75,510.99 809.50,510.99 810.25,510.99 811.00,510.99 811.75,510.99 812.50,510.99 813.25,511.00 814.00,511.00 814.75,511.00 815.50,511.00 816.25,511.00 817.00,511.00 817.75,511.00 818.50,511.00 819.25,511.00 820.00,511.00 820.75,511.00 821.50,511.00" fill="none" stroke="#daa520" stroke-width="3.9" stroke-linejoin="miter" stroke-miterlimit="4" stroke-dasharray="2.95 4.1"/>
</g>
<g clip-path="url(#cc)">
<polyline points="54.50,714.00 85.40,714.50 117.20,717.35 149.75,722.70 181.50,729.51 212.70,738.19 244.00,747.85 275.20,759.79 306.40,773.03 337.60,788.43 368.80,806.05 399.75,822.80 428.60,836.18 459.40,846.25 490.10,852.16 521.00,855.06 552.10,856.65 583.20,857.33 614.30,857.72 645.40,857.91 676.50,857.94 707.60,857.97 738.70,857.98 769.80,857.99 800.90,858.00 832.00,858.00" fill="none" stroke="#008b8b" stroke-width="3.9" stroke-linejoin="round" stroke-miterlimit="4"/>
<polyline points="54.20,714.20 85.40,715.60 117.20,720.50 149.75,726.75 181.50,732.45 212.70,736.02 244.00,737.79 275.20,736.99 306.40,734.52 337.60,732.56 368.80,729.68 399.75,727.14 428.60,724.78 459.40,723.38 490.10,722.49 521.00,722.12 552.10,722.01 583.20,721.94 614.30,721.87 645.40,721.79 676.50,721.73 707.60,721.69 738.70,721.66 769.80,721.63 800.90,721.61 832.00,721.60" fill="none" stroke="#daa520" stroke-width="3.9" stroke-linejoin="round" stroke-miterlimit="4" stroke-dasharray="2.95 4.1"/>
<polyline points="54.50,638.00 85.40,640.20 117.20,647.80 149.75,658.98 181.50,672.94 212.70,684.22 244.00,695.62 275.20,706.87 306.40,718.74 337.60,731.73 368.80,746.52 399.75,760.60 428.60,770.74 459.40,779.20 490.10,784.75 521.00,787.72 552.10,788.79 583.20,789.37 614.30,789.62 645.40,789.70 676.50,789.70 707.60,789.70 738.70,789.70 769.80,789.70 800.90,789.70 832.00,789.70" fill="none" stroke="#ff0000" stroke-width="3.9" stroke-linejoin="round" stroke-miterlimit="4"/>
</g>
<polyline points="249.5,122.4 362.5,122.4 625,206.5" fill="none" stroke="#6a6a6a" stroke-width="1.05" stroke-dasharray="1.7 2.5"/>
<polyline points="249.5,199.2 399,199.2 624,242.5" fill="none" stroke="#6a6a6a" stroke-width="1.05" stroke-dasharray="1.7 2.5"/>
<line x1="322.0" x2="322.0" y1="128.2" y2="269.2" stroke="#111" stroke-width="1"/>
<path d="M322.0,122.2 L325.9,135.0 L322.0,132.4 L318.1,135.0 Z" fill="#000"/>
<path d="M322.0,275.2 L325.9,262.4 L322.0,265.0 L318.1,262.4 Z" fill="#000"/>
<line x1="360.5" x2="360.5" y1="204.8" y2="269.0" stroke="#111" stroke-width="1"/>
<path d="M360.5,198.8 L364.4,211.60000000000002 L360.5,209.00000000000003 L356.6,211.60000000000002 Z" fill="#000"/>
<path d="M360.5,275.0 L364.4,262.2 L360.5,264.8 L356.6,262.2 Z" fill="#000"/>
<rect x="54.4" y="12.2" width="764.50" height="263.20" fill="none" stroke="#000" stroke-width="1.8"/>
<rect x="54.4" y="301.5" width="764.50" height="262.60" fill="none" stroke="#000" stroke-width="1.8"/>
<rect x="54.4" y="614.0" width="764.50" height="263.30" fill="none" stroke="#000" stroke-width="1.8"/>
<line x1="245.53" x2="245.53" y1="275.40" y2="268.90" stroke="#000" stroke-width="1.3"/>
<line x1="245.53" x2="245.53" y1="12.20" y2="18.70" stroke="#000" stroke-width="1.3"/>
<line x1="245.53" x2="245.53" y1="564.10" y2="557.60" stroke="#000" stroke-width="1.3"/>
<line x1="245.53" x2="245.53" y1="301.50" y2="308.00" stroke="#000" stroke-width="1.3"/>
<line x1="627.77" x2="627.77" y1="275.40" y2="268.90" stroke="#000" stroke-width="1.3"/>
<line x1="627.77" x2="627.77" y1="12.20" y2="18.70" stroke="#000" stroke-width="1.3"/>
<line x1="627.77" x2="627.77" y1="564.10" y2="557.60" stroke="#000" stroke-width="1.3"/>
<line x1="627.77" x2="627.77" y1="301.50" y2="308.00" stroke="#000" stroke-width="1.3"/>
<line x1="309.23" x2="309.23" y1="877.30" y2="870.80" stroke="#000" stroke-width="1.3"/>
<line x1="564.07" x2="564.07" y1="877.30" y2="870.80" stroke="#000" stroke-width="1.3"/>
<line x1="54.40" x2="60.90" y1="143.80" y2="143.80" stroke="#000" stroke-width="1.3"/>
<line x1="818.90" x2="812.40" y1="143.80" y2="143.80" stroke="#000" stroke-width="1.3"/>
<line x1="54.40" x2="60.90" y1="406.54" y2="406.54" stroke="#000" stroke-width="1.3"/>
<line x1="818.90" x2="812.40" y1="406.54" y2="406.54" stroke="#000" stroke-width="1.3"/>
<line x1="54.40" x2="60.90" y1="701.77" y2="701.77" stroke="#000" stroke-width="1.3"/>
<line x1="818.90" x2="812.40" y1="701.77" y2="701.77" stroke="#000" stroke-width="1.3"/>
<g opacity="0.996">
<text x="48.9" y="19.30" font-size="28.5" text-anchor="end">6</text>
<text x="48.9" y="150.90" font-size="28.5" text-anchor="end">3</text>
<text x="48.9" y="282.50" font-size="28.5" text-anchor="end">0</text>
<text x="48.9" y="308.60" font-size="28.5" text-anchor="end">4</text>
<text x="48.9" y="413.64" font-size="28.5" text-anchor="end">2</text>
<text x="48.9" y="518.68" font-size="28.5" text-anchor="end">0</text>
<text x="48.9" y="621.10" font-size="28.5" text-anchor="end">4</text>
<text x="48.9" y="708.87" font-size="28.5" text-anchor="end">2</text>
<text x="48.9" y="796.63" font-size="28.5" text-anchor="end">0</text>
<text x="48.9" y="884.40" font-size="28.5" text-anchor="end">-2</text>
<text x="245.53" y="585.6" font-size="28.5" text-anchor="middle">1</text>
<text x="627.77" y="585.6" font-size="28.5" text-anchor="middle">2</text>
<text x="58.90" y="899.8" font-size="28.5" text-anchor="middle">0</text>
<text x="313.73" y="899.8" font-size="28.5" text-anchor="middle">2</text>
<text x="568.57" y="899.8" font-size="28.5" text-anchor="middle">4</text>
<text x="823.40" y="899.8" font-size="28.5" text-anchor="middle">6</text>
<text x="378.78" y="665.00" font-size="22.10" font-style="italic" textLength="12.34" lengthAdjust="spacingAndGlyphs" fill="#000">J</text>
<line x1="384.00" x2="390.20" y1="646.60" y2="646.60" stroke="#000" stroke-width="0.95"/>
<text x="391.02" y="672.20" font-size="14.80" textLength="12.40" lengthAdjust="spacingAndGlyphs" fill="#000">E</text>
<text x="392.66" y="657.00" font-size="16.40" textLength="18.80" lengthAdjust="spacingAndGlyphs" fill="#000">ac</text>
<text x="450.28" y="665.00" font-size="22.10" font-style="italic" textLength="12.34" lengthAdjust="spacingAndGlyphs" fill="#000">J</text>
<line x1="455.50" x2="461.70" y1="646.60" y2="646.60" stroke="#000" stroke-width="0.95"/>
<text x="462.52" y="672.20" font-size="14.80" textLength="12.40" lengthAdjust="spacingAndGlyphs" fill="#000">E</text>
<text x="463.64" y="657.00" font-size="14.80" textLength="15.29" lengthAdjust="spacingAndGlyphs" fill="#000">R</text>
<text x="518.28" y="665.00" font-size="22.10" font-style="italic" textLength="12.34" lengthAdjust="spacingAndGlyphs" fill="#000">J</text>
<line x1="523.50" x2="529.70" y1="646.60" y2="646.60" stroke="#000" stroke-width="0.95"/>
<text x="530.52" y="672.20" font-size="14.80" textLength="12.40" lengthAdjust="spacingAndGlyphs" fill="#000">E</text>
<text x="532.13" y="657.00" font-size="14.80" textLength="12.17" lengthAdjust="spacingAndGlyphs" fill="#000">L</text>
<text x="629.18" y="665.00" font-size="22.10" font-style="italic" textLength="12.34" lengthAdjust="spacingAndGlyphs" fill="#000">J</text>
<line x1="634.40" x2="640.60" y1="646.60" y2="646.60" stroke="#000" stroke-width="0.95"/>
<text x="641.42" y="672.20" font-size="14.80" textLength="12.40" lengthAdjust="spacingAndGlyphs" fill="#000">E</text>
<text x="643.03" y="657.00" font-size="14.80" textLength="12.17" lengthAdjust="spacingAndGlyphs" fill="#000">L</text>
<text x="694.78" y="665.00" font-size="22.10" font-style="italic" textLength="12.34" lengthAdjust="spacingAndGlyphs" fill="#000">J</text>
<line x1="700.00" x2="706.20" y1="646.60" y2="646.60" stroke="#000" stroke-width="0.95"/>
<text x="707.02" y="672.20" font-size="14.80" textLength="12.40" lengthAdjust="spacingAndGlyphs" fill="#000">E</text>
<text x="708.14" y="657.00" font-size="14.80" textLength="15.29" lengthAdjust="spacingAndGlyphs" fill="#000">R</text>
<text x="119.38" y="840.20" font-size="22.10" font-style="italic" textLength="12.34" lengthAdjust="spacingAndGlyphs" fill="#000">J</text>
<line x1="124.60" x2="130.80" y1="821.80" y2="821.80" stroke="#000" stroke-width="0.95"/>
<text x="131.62" y="847.40" font-size="14.80" textLength="12.40" lengthAdjust="spacingAndGlyphs" fill="#000">E</text>
<text x="133.23" y="832.20" font-size="14.80" textLength="12.17" lengthAdjust="spacingAndGlyphs" fill="#000">L</text>
<text x="184.38" y="840.20" font-size="22.10" font-style="italic" textLength="12.34" lengthAdjust="spacingAndGlyphs" fill="#000">J</text>
<line x1="189.60" x2="195.80" y1="821.80" y2="821.80" stroke="#000" stroke-width="0.95"/>
<text x="196.62" y="847.40" font-size="14.80" textLength="12.40" lengthAdjust="spacingAndGlyphs" fill="#000">E</text>
<text x="198.26" y="832.20" font-size="16.40" textLength="18.80" lengthAdjust="spacingAndGlyphs" fill="#000">ac</text>
<text x="257.38" y="840.20" font-size="22.10" font-style="italic" textLength="12.34" lengthAdjust="spacingAndGlyphs" fill="#000">J</text>
<line x1="262.60" x2="268.80" y1="821.80" y2="821.80" stroke="#000" stroke-width="0.95"/>
<text x="269.62" y="847.40" font-size="14.80" textLength="12.40" lengthAdjust="spacingAndGlyphs" fill="#000">E</text>
<text x="270.74" y="832.20" font-size="14.80" textLength="15.29" lengthAdjust="spacingAndGlyphs" fill="#000">R</text>
<path d="M419.9,657.4 H437.1 M419.9,661.8000000000001 H437.1" stroke="#000" stroke-width="0.95" fill="none"/>
<path d="M434.1,654.0 Q436.1,658.0 441.1,659.6 Q436.1,661.2 434.1,665.2" stroke="#000" stroke-width="0.95" fill="none"/>
<path d="M509.8,657.4 H492.0 M509.8,661.8000000000001 H492.0" stroke="#000" stroke-width="0.95" fill="none"/>
<path d="M495.0,654.0 Q493.0,658.0 488.0,659.6 Q493.0,661.2 495.0,665.2" stroke="#000" stroke-width="0.95" fill="none"/>
<path d="M664.1,657.4 H681.5 M664.1,661.8000000000001 H681.5" stroke="#000" stroke-width="0.95" fill="none"/>
<path d="M678.5,654.0 Q680.5,658.0 685.5,659.6 Q680.5,661.2 678.5,665.2" stroke="#000" stroke-width="0.95" fill="none"/>
<path d="M175.9,834.6 H155.4" stroke="#000" stroke-width="0.95" fill="none"/>
<path d="M160.9,830.0 Q159.1,833.4 154.9,834.6 Q159.1,835.8000000000001 160.9,839.2" stroke="#000" stroke-width="0.95" fill="none"/>
<path d="M226.5,832.4 H243.5 M226.5,836.8000000000001 H243.5" stroke="#000" stroke-width="0.95" fill="none"/>
<path d="M240.5,829.0 Q242.5,833.0 247.5,834.6 Q242.5,836.2 240.5,840.2" stroke="#000" stroke-width="0.95" fill="none"/>
<text x="769.33" y="664.20" font-size="29.50" textLength="32.15" lengthAdjust="spacingAndGlyphs" fill="#000">(c)</text>
<text x="781.69" y="345.00" font-size="29.50" textLength="34.83" lengthAdjust="spacingAndGlyphs" fill="#000">(b)</text>
<text x="781.45" y="62.80" font-size="29.50" textLength="34.21" lengthAdjust="spacingAndGlyphs" fill="#000">(a)</text>
<text x="666.08" y="831.40" font-size="22.70" textLength="126.44" lengthAdjust="spacingAndGlyphs" fill="#000">Infinite Bias</text>
<text x="321.98" y="76.60" font-size="28.20" textLength="111.09" lengthAdjust="spacingAndGlyphs" fill="#000">Zero bias</text>
<text x="322.11" y="360.30" font-size="28.20" textLength="130.11" lengthAdjust="spacingAndGlyphs" fill="#000">Finite bias</text>
<text x="322.93" y="387.20" font-size="28.00" font-style="italic" textLength="15.71" lengthAdjust="spacingAndGlyphs" fill="#000">μ</text>
<text x="338.33" y="391.00" font-size="20.60" textLength="14.28" lengthAdjust="spacingAndGlyphs" fill="#000">L</text>
<text x="359.82" y="388.50" font-size="28.50" textLength="20.12" lengthAdjust="spacingAndGlyphs" fill="#000">−</text>
<text x="388.03" y="387.20" font-size="28.00" font-style="italic" textLength="15.60" lengthAdjust="spacingAndGlyphs" fill="#000">μ</text>
<text x="402.88" y="391.00" font-size="20.60" textLength="16.76" lengthAdjust="spacingAndGlyphs" fill="#000">R</text>
<text x="428.92" y="388.50" font-size="28.50" textLength="22.42" lengthAdjust="spacingAndGlyphs" fill="#000">=</text>
<text x="458.59" y="387.20" font-size="28.50" textLength="34.43" lengthAdjust="spacingAndGlyphs" fill="#000">2.6</text>
<text x="493.89" y="387.20" font-size="28.50" font-style="italic" textLength="15.39" lengthAdjust="spacingAndGlyphs" fill="#000">ħ</text>
<text x="508.61" y="387.20" font-size="28.50" font-style="italic" textLength="18.86" lengthAdjust="spacingAndGlyphs" fill="#000">ω</text>
<text x="394.86" y="585.40" font-size="28.50" textLength="22.55" lengthAdjust="spacingAndGlyphs" fill="#000">Δ</text>
<text x="417.97" y="585.40" font-size="28.50" font-style="italic" textLength="9.84" lengthAdjust="spacingAndGlyphs" fill="#000">ϵ</text>
<line x1="431.5" y1="593.0" x2="441.6" y2="565.4" stroke="#000" stroke-width="1.25" stroke-linecap="round"/>
<text x="443.79" y="585.40" font-size="28.50" font-style="italic" textLength="13.97" lengthAdjust="spacingAndGlyphs" fill="#000">ħ</text>
<text x="457.86" y="585.40" font-size="28.50" font-style="italic" textLength="19.98" lengthAdjust="spacingAndGlyphs" fill="#000">ω</text>
<text x="353.22" y="899.20" font-size="29.50" textLength="8.17" lengthAdjust="spacingAndGlyphs" fill="#000">(</text>
<text x="363.33" y="899.20" font-size="28.00" font-style="italic" textLength="15.71" lengthAdjust="spacingAndGlyphs" fill="#000">μ</text>
<text x="378.72" y="903.00" font-size="20.60" textLength="14.51" lengthAdjust="spacingAndGlyphs" fill="#000">L</text>
<text x="400.51" y="900.50" font-size="28.50" textLength="21.45" lengthAdjust="spacingAndGlyphs" fill="#000">−</text>
<text x="430.23" y="899.20" font-size="28.00" font-style="italic" textLength="15.60" lengthAdjust="spacingAndGlyphs" fill="#000">μ</text>
<text x="445.07" y="903.00" font-size="20.60" textLength="16.87" lengthAdjust="spacingAndGlyphs" fill="#000">R</text>
<text x="462.08" y="899.20" font-size="29.50" textLength="8.43" lengthAdjust="spacingAndGlyphs" fill="#000">)</text>
<line x1="471.3" y1="906.8" x2="482.7" y2="879.2" stroke="#000" stroke-width="1.25" stroke-linecap="round"/>
<text x="485.92" y="899.20" font-size="28.50" font-style="italic" textLength="14.92" lengthAdjust="spacingAndGlyphs" fill="#000">ħ</text>
<text x="500.44" y="899.20" font-size="28.50" font-style="italic" textLength="20.32" lengthAdjust="spacingAndGlyphs" fill="#000">ω</text>
<line x1="153.2" x2="208" y1="102.4" y2="102.4" stroke="#008b8b" stroke-width="3.8"/>
<line x1="153.2" x2="206.5" y1="133.2" y2="133.2" stroke="#daa520" stroke-width="3.8" stroke-dasharray="2.95 4.1"/>
<line x1="153.2" x2="208" y1="164.2" y2="164.2" stroke="#ff0000" stroke-width="3.8"/>
<text x="75.13" y="109.20" font-size="21.50" font-style="italic" textLength="11.87" lengthAdjust="spacingAndGlyphs" fill="#000">ν</text>
<text x="91.86" y="109.60" font-size="21.50" textLength="24.24" lengthAdjust="spacingAndGlyphs" fill="#000">=</text>
<text x="120.08" y="109.20" font-size="20.50" textLength="15.21" lengthAdjust="spacingAndGlyphs" fill="#000">L</text>
<text x="73.33" y="140.20" font-size="21.50" font-style="italic" textLength="11.87" lengthAdjust="spacingAndGlyphs" fill="#000">ν</text>
<text x="90.04" y="140.60" font-size="21.50" textLength="24.48" lengthAdjust="spacingAndGlyphs" fill="#000">=</text>
<text x="117.25" y="140.20" font-size="20.50" textLength="17.39" lengthAdjust="spacingAndGlyphs" fill="#000">R</text>
<text x="101.08" y="171.00" font-size="22.10" font-style="italic" textLength="12.34" lengthAdjust="spacingAndGlyphs" fill="#000">J</text>
<line x1="106.30" x2="112.50" y1="152.60" y2="152.60" stroke="#000" stroke-width="0.95"/>
<text x="113.32" y="178.20" font-size="14.80" textLength="12.40" lengthAdjust="spacingAndGlyphs" fill="#000">E</text>
<text x="114.96" y="163.00" font-size="16.40" textLength="18.80" lengthAdjust="spacingAndGlyphs" fill="#000">ac</text>
<text x="341.98" y="181.60" font-size="22.10" font-style="italic" textLength="12.34" lengthAdjust="spacingAndGlyphs" fill="#000">J</text>
<line x1="347.20" x2="353.40" y1="163.20" y2="163.20" stroke="#000" stroke-width="0.95"/>
<text x="354.22" y="188.80" font-size="14.80" textLength="12.40" lengthAdjust="spacingAndGlyphs" fill="#000">E</text>
<text x="355.86" y="173.60" font-size="16.40" textLength="18.80" lengthAdjust="spacingAndGlyphs" fill="#000">ac</text>
<text x="380.28" y="249.00" font-size="22.10" font-style="italic" textLength="12.34" lengthAdjust="spacingAndGlyphs" fill="#000">J</text>
<line x1="385.50" x2="391.70" y1="230.60" y2="230.60" stroke="#000" stroke-width="0.95"/>
<text x="392.52" y="256.20" font-size="14.80" textLength="12.40" lengthAdjust="spacingAndGlyphs" fill="#000">E</text>
<text x="394.16" y="241.00" font-size="16.40" textLength="18.80" lengthAdjust="spacingAndGlyphs" fill="#000">ac</text>
<line x1="417.0" y1="254.5" x2="424.2" y2="231.0" stroke="#000" stroke-width="1.05" stroke-linecap="round"/>
<text x="425.84" y="249.00" font-size="21.00" textLength="13.22" lengthAdjust="spacingAndGlyphs" fill="#000">2</text>
<g transform="translate(24.3,182.5) rotate(-90)">
<text x="-0.49" y="0.00" font-size="30.50" font-style="italic" textLength="14.42" lengthAdjust="spacingAndGlyphs" fill="#000">J</text>
<line x1="6.7" x2="16.7" y1="-23.6" y2="-23.6" stroke="#000" stroke-width="1.3"/>
<text x="17.29" y="-10.90" font-size="19.50" font-style="italic" textLength="10.01" lengthAdjust="spacingAndGlyphs" fill="#000">ν</text>
<text x="13.90" y="6.70" font-size="20.40" textLength="14.92" lengthAdjust="spacingAndGlyphs" fill="#000">E</text>
<line x1="33.0" y1="5.5" x2="42.3" y2="-21.0" stroke="#000" stroke-width="1.25" stroke-linecap="round"/>
<text x="45.55" y="0.00" font-size="28.80" font-style="italic" textLength="11.72" lengthAdjust="spacingAndGlyphs" fill="#000">ħ</text>
<text x="57.74" y="0.00" font-size="28.80" font-style="italic" textLength="20.43" lengthAdjust="spacingAndGlyphs" fill="#000">ω</text>
</g>
<g transform="translate(24.3,471.8) rotate(-90)">
<text x="-0.49" y="0.00" font-size="30.50" font-style="italic" textLength="14.42" lengthAdjust="spacingAndGlyphs" fill="#000">J</text>
<line x1="6.7" x2="16.7" y1="-23.6" y2="-23.6" stroke="#000" stroke-width="1.3"/>
<text x="17.29" y="-10.90" font-size="19.50" font-style="italic" textLength="10.01" lengthAdjust="spacingAndGlyphs" fill="#000">ν</text>
<text x="13.90" y="6.70" font-size="20.40" textLength="14.92" lengthAdjust="spacingAndGlyphs" fill="#000">E</text>
<line x1="33.0" y1="5.5" x2="42.3" y2="-21.0" stroke="#000" stroke-width="1.25" stroke-linecap="round"/>
<text x="45.55" y="0.00" font-size="28.80" font-style="italic" textLength="11.72" lengthAdjust="spacingAndGlyphs" fill="#000">ħ</text>
<text x="57.74" y="0.00" font-size="28.80" font-style="italic" textLength="20.43" lengthAdjust="spacingAndGlyphs" fill="#000">ω</text>
</g>
<g transform="translate(24.3,784.3) rotate(-90)">
<text x="-0.49" y="0.00" font-size="30.50" font-style="italic" textLength="14.42" lengthAdjust="spacingAndGlyphs" fill="#000">J</text>
<line x1="6.7" x2="16.7" y1="-23.6" y2="-23.6" stroke="#000" stroke-width="1.3"/>
<text x="17.29" y="-10.90" font-size="19.50" font-style="italic" textLength="10.01" lengthAdjust="spacingAndGlyphs" fill="#000">ν</text>
<text x="13.90" y="6.70" font-size="20.40" textLength="14.92" lengthAdjust="spacingAndGlyphs" fill="#000">E</text>
<line x1="33.0" y1="5.5" x2="42.3" y2="-21.0" stroke="#000" stroke-width="1.25" stroke-linecap="round"/>
<text x="45.55" y="0.00" font-size="28.80" font-style="italic" textLength="11.72" lengthAdjust="spacingAndGlyphs" fill="#000">ħ</text>
<text x="57.74" y="0.00" font-size="28.80" font-style="italic" textLength="20.43" lengthAdjust="spacingAndGlyphs" fill="#000">ω</text>
</g>
</g>
</svg>
</body></html>
